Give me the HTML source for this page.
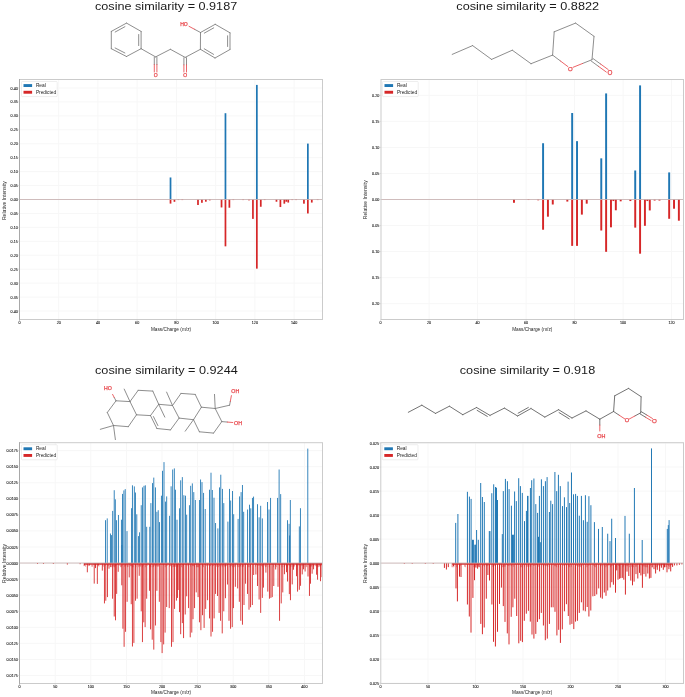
<!DOCTYPE html><html><head><meta charset="utf-8"><style>html,body{margin:0;padding:0;background:#fff;overflow:hidden}svg{display:block}</style></head><body>
<svg width="685" height="697" viewBox="0 0 685 697" font-family='"Liberation Sans", sans-serif' style="will-change:transform">
<rect width="685" height="697" fill="#fff"/>
<text x="95.00" y="9.90" font-size="11.1" textLength="142.20" lengthAdjust="spacingAndGlyphs" fill="#1a1a1a">cosine similarity = 0.9187</text>
<text x="456.30" y="9.90" font-size="11.1" textLength="142.80" lengthAdjust="spacingAndGlyphs" fill="#1a1a1a">cosine similarity = 0.8822</text>
<text x="95.00" y="373.80" font-size="11.1" textLength="142.80" lengthAdjust="spacingAndGlyphs" fill="#1a1a1a">cosine similarity = 0.9244</text>
<text x="459.80" y="373.90" font-size="11.1" textLength="135.40" lengthAdjust="spacingAndGlyphs" fill="#1a1a1a">cosine similarity = 0.918</text>
<g>
<line x1="19.5" y1="311.02" x2="322.5" y2="311.02" stroke="#f7f7f7" stroke-width="1"/>
<line x1="19.5" y1="297.08" x2="322.5" y2="297.08" stroke="#f7f7f7" stroke-width="1"/>
<line x1="19.5" y1="283.14" x2="322.5" y2="283.14" stroke="#f7f7f7" stroke-width="1"/>
<line x1="19.5" y1="269.20" x2="322.5" y2="269.20" stroke="#f7f7f7" stroke-width="1"/>
<line x1="19.5" y1="255.26" x2="322.5" y2="255.26" stroke="#f7f7f7" stroke-width="1"/>
<line x1="19.5" y1="241.32" x2="322.5" y2="241.32" stroke="#f7f7f7" stroke-width="1"/>
<line x1="19.5" y1="227.38" x2="322.5" y2="227.38" stroke="#f7f7f7" stroke-width="1"/>
<line x1="19.5" y1="213.44" x2="322.5" y2="213.44" stroke="#f7f7f7" stroke-width="1"/>
<line x1="19.5" y1="199.50" x2="322.5" y2="199.50" stroke="#f7f7f7" stroke-width="1"/>
<line x1="19.5" y1="185.56" x2="322.5" y2="185.56" stroke="#f7f7f7" stroke-width="1"/>
<line x1="19.5" y1="171.62" x2="322.5" y2="171.62" stroke="#f7f7f7" stroke-width="1"/>
<line x1="19.5" y1="157.68" x2="322.5" y2="157.68" stroke="#f7f7f7" stroke-width="1"/>
<line x1="19.5" y1="143.74" x2="322.5" y2="143.74" stroke="#f7f7f7" stroke-width="1"/>
<line x1="19.5" y1="129.80" x2="322.5" y2="129.80" stroke="#f7f7f7" stroke-width="1"/>
<line x1="19.5" y1="115.86" x2="322.5" y2="115.86" stroke="#f7f7f7" stroke-width="1"/>
<line x1="19.5" y1="101.92" x2="322.5" y2="101.92" stroke="#f7f7f7" stroke-width="1"/>
<line x1="19.5" y1="87.98" x2="322.5" y2="87.98" stroke="#f7f7f7" stroke-width="1"/>
<line x1="58.69" y1="79.5" x2="58.69" y2="319.5" stroke="#f7f7f7" stroke-width="1"/>
<line x1="97.93" y1="79.5" x2="97.93" y2="319.5" stroke="#f7f7f7" stroke-width="1"/>
<line x1="137.17" y1="79.5" x2="137.17" y2="319.5" stroke="#f7f7f7" stroke-width="1"/>
<line x1="176.41" y1="79.5" x2="176.41" y2="319.5" stroke="#f7f7f7" stroke-width="1"/>
<line x1="215.65" y1="79.5" x2="215.65" y2="319.5" stroke="#f7f7f7" stroke-width="1"/>
<line x1="254.89" y1="79.5" x2="254.89" y2="319.5" stroke="#f7f7f7" stroke-width="1"/>
<line x1="294.13" y1="79.5" x2="294.13" y2="319.5" stroke="#f7f7f7" stroke-width="1"/>
<rect x="169.66" y="177.47" width="1.72" height="22.03" fill="#1f77b4"/>
<rect x="224.60" y="113.21" width="1.72" height="86.29" fill="#1f77b4"/>
<rect x="255.99" y="84.91" width="1.72" height="114.59" fill="#1f77b4"/>
<rect x="307.00" y="143.60" width="1.72" height="55.90" fill="#1f77b4"/>
<rect x="169.66" y="199.50" width="1.72" height="4.10" fill="#d62728"/>
<rect x="173.59" y="199.50" width="1.72" height="2.31" fill="#d62728"/>
<rect x="177.51" y="199.50" width="1.72" height="0.56" fill="#d62728"/>
<rect x="181.44" y="199.50" width="1.72" height="0.56" fill="#d62728"/>
<rect x="197.13" y="199.50" width="1.72" height="5.49" fill="#d62728"/>
<rect x="201.06" y="199.50" width="1.72" height="3.29" fill="#d62728"/>
<rect x="204.98" y="199.50" width="1.72" height="2.20" fill="#d62728"/>
<rect x="208.90" y="199.50" width="1.72" height="0.84" fill="#d62728"/>
<rect x="220.68" y="199.50" width="1.72" height="7.95" fill="#d62728"/>
<rect x="224.60" y="199.50" width="1.72" height="46.84" fill="#d62728"/>
<rect x="228.52" y="199.50" width="1.72" height="8.22" fill="#d62728"/>
<rect x="232.45" y="199.50" width="1.72" height="0.56" fill="#d62728"/>
<rect x="242.26" y="199.50" width="1.72" height="0.56" fill="#d62728"/>
<rect x="248.14" y="199.50" width="1.72" height="0.84" fill="#d62728"/>
<rect x="252.07" y="199.50" width="1.72" height="19.40" fill="#d62728"/>
<rect x="255.99" y="199.50" width="1.72" height="69.14" fill="#d62728"/>
<rect x="259.92" y="199.50" width="1.72" height="7.25" fill="#d62728"/>
<rect x="263.84" y="199.50" width="1.72" height="0.56" fill="#d62728"/>
<rect x="275.61" y="199.50" width="1.72" height="2.23" fill="#d62728"/>
<rect x="279.54" y="199.50" width="1.72" height="7.53" fill="#d62728"/>
<rect x="283.46" y="199.50" width="1.72" height="4.18" fill="#d62728"/>
<rect x="285.42" y="199.50" width="1.72" height="2.23" fill="#d62728"/>
<rect x="287.38" y="199.50" width="1.72" height="3.07" fill="#d62728"/>
<rect x="291.31" y="199.50" width="1.72" height="0.56" fill="#d62728"/>
<rect x="295.23" y="199.50" width="1.72" height="0.56" fill="#d62728"/>
<rect x="303.08" y="199.50" width="1.72" height="4.18" fill="#d62728"/>
<rect x="307.00" y="199.50" width="1.72" height="13.94" fill="#d62728"/>
<rect x="310.93" y="199.50" width="1.72" height="3.07" fill="#d62728"/>
<rect x="316.81" y="199.50" width="1.72" height="0.56" fill="#d62728"/>
<line x1="19.5" y1="199.5" x2="322.5" y2="199.5" stroke="#c4acac" stroke-width="0.8"/>
<rect x="19.5" y="79.5" width="303.00" height="240.00" fill="none" stroke="#cbcbcb" stroke-width="1"/>
<line x1="19.5" y1="79.0" x2="19.5" y2="320.7" stroke="#a8a8a8" stroke-width="1"/>
<line x1="17.90" y1="311.02" x2="19.50" y2="311.02" stroke="#c4c4c4" stroke-width="0.5"/>
<line x1="17.90" y1="297.08" x2="19.50" y2="297.08" stroke="#c4c4c4" stroke-width="0.5"/>
<line x1="17.90" y1="283.14" x2="19.50" y2="283.14" stroke="#c4c4c4" stroke-width="0.5"/>
<line x1="17.90" y1="269.20" x2="19.50" y2="269.20" stroke="#c4c4c4" stroke-width="0.5"/>
<line x1="17.90" y1="255.26" x2="19.50" y2="255.26" stroke="#c4c4c4" stroke-width="0.5"/>
<line x1="17.90" y1="241.32" x2="19.50" y2="241.32" stroke="#c4c4c4" stroke-width="0.5"/>
<line x1="17.90" y1="227.38" x2="19.50" y2="227.38" stroke="#c4c4c4" stroke-width="0.5"/>
<line x1="17.90" y1="213.44" x2="19.50" y2="213.44" stroke="#c4c4c4" stroke-width="0.5"/>
<line x1="17.90" y1="199.50" x2="19.50" y2="199.50" stroke="#c4c4c4" stroke-width="0.5"/>
<line x1="17.90" y1="185.56" x2="19.50" y2="185.56" stroke="#c4c4c4" stroke-width="0.5"/>
<line x1="17.90" y1="171.62" x2="19.50" y2="171.62" stroke="#c4c4c4" stroke-width="0.5"/>
<line x1="17.90" y1="157.68" x2="19.50" y2="157.68" stroke="#c4c4c4" stroke-width="0.5"/>
<line x1="17.90" y1="143.74" x2="19.50" y2="143.74" stroke="#c4c4c4" stroke-width="0.5"/>
<line x1="17.90" y1="129.80" x2="19.50" y2="129.80" stroke="#c4c4c4" stroke-width="0.5"/>
<line x1="17.90" y1="115.86" x2="19.50" y2="115.86" stroke="#c4c4c4" stroke-width="0.5"/>
<line x1="17.90" y1="101.92" x2="19.50" y2="101.92" stroke="#c4c4c4" stroke-width="0.5"/>
<line x1="17.90" y1="87.98" x2="19.50" y2="87.98" stroke="#c4c4c4" stroke-width="0.5"/>
<line x1="19.45" y1="319.50" x2="19.45" y2="320.90" stroke="#c4c4c4" stroke-width="0.5"/>
<line x1="58.69" y1="319.50" x2="58.69" y2="320.90" stroke="#c4c4c4" stroke-width="0.5"/>
<line x1="97.93" y1="319.50" x2="97.93" y2="320.90" stroke="#c4c4c4" stroke-width="0.5"/>
<line x1="137.17" y1="319.50" x2="137.17" y2="320.90" stroke="#c4c4c4" stroke-width="0.5"/>
<line x1="176.41" y1="319.50" x2="176.41" y2="320.90" stroke="#c4c4c4" stroke-width="0.5"/>
<line x1="215.65" y1="319.50" x2="215.65" y2="320.90" stroke="#c4c4c4" stroke-width="0.5"/>
<line x1="254.89" y1="319.50" x2="254.89" y2="320.90" stroke="#c4c4c4" stroke-width="0.5"/>
<line x1="294.13" y1="319.50" x2="294.13" y2="320.90" stroke="#c4c4c4" stroke-width="0.5"/>
<text x="17.80" y="312.57" font-size="3.7" text-anchor="end" fill="#111" stroke="#111" stroke-width="0.08">0.40</text>
<text x="17.80" y="298.63" font-size="3.7" text-anchor="end" fill="#111" stroke="#111" stroke-width="0.08">0.35</text>
<text x="17.80" y="284.69" font-size="3.7" text-anchor="end" fill="#111" stroke="#111" stroke-width="0.08">0.30</text>
<text x="17.80" y="270.75" font-size="3.7" text-anchor="end" fill="#111" stroke="#111" stroke-width="0.08">0.25</text>
<text x="17.80" y="256.81" font-size="3.7" text-anchor="end" fill="#111" stroke="#111" stroke-width="0.08">0.20</text>
<text x="17.80" y="242.87" font-size="3.7" text-anchor="end" fill="#111" stroke="#111" stroke-width="0.08">0.15</text>
<text x="17.80" y="228.93" font-size="3.7" text-anchor="end" fill="#111" stroke="#111" stroke-width="0.08">0.10</text>
<text x="17.80" y="214.99" font-size="3.7" text-anchor="end" fill="#111" stroke="#111" stroke-width="0.08">0.05</text>
<text x="17.80" y="201.05" font-size="3.7" text-anchor="end" fill="#111" stroke="#111" stroke-width="0.08">0.00</text>
<text x="17.80" y="187.11" font-size="3.7" text-anchor="end" fill="#111" stroke="#111" stroke-width="0.08">0.05</text>
<text x="17.80" y="173.17" font-size="3.7" text-anchor="end" fill="#111" stroke="#111" stroke-width="0.08">0.10</text>
<text x="17.80" y="159.23" font-size="3.7" text-anchor="end" fill="#111" stroke="#111" stroke-width="0.08">0.15</text>
<text x="17.80" y="145.29" font-size="3.7" text-anchor="end" fill="#111" stroke="#111" stroke-width="0.08">0.20</text>
<text x="17.80" y="131.35" font-size="3.7" text-anchor="end" fill="#111" stroke="#111" stroke-width="0.08">0.25</text>
<text x="17.80" y="117.41" font-size="3.7" text-anchor="end" fill="#111" stroke="#111" stroke-width="0.08">0.30</text>
<text x="17.80" y="103.47" font-size="3.7" text-anchor="end" fill="#111" stroke="#111" stroke-width="0.08">0.35</text>
<text x="17.80" y="89.53" font-size="3.7" text-anchor="end" fill="#111" stroke="#111" stroke-width="0.08">0.40</text>
<text x="19.45" y="323.90" font-size="3.7" text-anchor="middle" fill="#111" stroke="#111" stroke-width="0.08">0</text>
<text x="58.69" y="323.90" font-size="3.7" text-anchor="middle" fill="#111" stroke="#111" stroke-width="0.08">20</text>
<text x="97.93" y="323.90" font-size="3.7" text-anchor="middle" fill="#111" stroke="#111" stroke-width="0.08">40</text>
<text x="137.17" y="323.90" font-size="3.7" text-anchor="middle" fill="#111" stroke="#111" stroke-width="0.08">60</text>
<text x="176.41" y="323.90" font-size="3.7" text-anchor="middle" fill="#111" stroke="#111" stroke-width="0.08">80</text>
<text x="215.65" y="323.90" font-size="3.7" text-anchor="middle" fill="#111" stroke="#111" stroke-width="0.08">100</text>
<text x="254.89" y="323.90" font-size="3.7" text-anchor="middle" fill="#111" stroke="#111" stroke-width="0.08">120</text>
<text x="294.13" y="323.90" font-size="3.7" text-anchor="middle" fill="#111" stroke="#111" stroke-width="0.08">140</text>
<text x="150.90" y="331.10" font-size="5.4" textLength="40.2" lengthAdjust="spacingAndGlyphs" fill="#222">Mass/Charge (m/z)</text>
<text transform="translate(6.20,200.60) rotate(-90)" x="0" y="0" font-size="5.3" textLength="39" lengthAdjust="spacingAndGlyphs" text-anchor="middle" fill="#222">Relative Intensity</text>
<rect x="21.50" y="81.50" width="35.7" height="15.1" rx="0.8" fill="#fff" fill-opacity="0.8" stroke="#e3e3e3" stroke-width="0.6"/>
<rect x="23.50" y="84.10" width="8.6" height="2.9" fill="#1f77b4"/>
<rect x="23.50" y="90.80" width="8.6" height="2.9" fill="#d62728"/>
<text x="35.90" y="86.80" font-size="4.8" fill="#222">Real</text>
<text x="35.90" y="93.60" font-size="4.8" fill="#222">Predicted</text>
</g>
<g>
<line x1="381.0" y1="303.70" x2="683.5" y2="303.70" stroke="#f7f7f7" stroke-width="1"/>
<line x1="381.0" y1="277.65" x2="683.5" y2="277.65" stroke="#f7f7f7" stroke-width="1"/>
<line x1="381.0" y1="251.60" x2="683.5" y2="251.60" stroke="#f7f7f7" stroke-width="1"/>
<line x1="381.0" y1="225.55" x2="683.5" y2="225.55" stroke="#f7f7f7" stroke-width="1"/>
<line x1="381.0" y1="199.50" x2="683.5" y2="199.50" stroke="#f7f7f7" stroke-width="1"/>
<line x1="381.0" y1="173.45" x2="683.5" y2="173.45" stroke="#f7f7f7" stroke-width="1"/>
<line x1="381.0" y1="147.40" x2="683.5" y2="147.40" stroke="#f7f7f7" stroke-width="1"/>
<line x1="381.0" y1="121.35" x2="683.5" y2="121.35" stroke="#f7f7f7" stroke-width="1"/>
<line x1="381.0" y1="95.30" x2="683.5" y2="95.30" stroke="#f7f7f7" stroke-width="1"/>
<line x1="429.10" y1="79.5" x2="429.10" y2="319.5" stroke="#f7f7f7" stroke-width="1"/>
<line x1="477.60" y1="79.5" x2="477.60" y2="319.5" stroke="#f7f7f7" stroke-width="1"/>
<line x1="526.10" y1="79.5" x2="526.10" y2="319.5" stroke="#f7f7f7" stroke-width="1"/>
<line x1="574.60" y1="79.5" x2="574.60" y2="319.5" stroke="#f7f7f7" stroke-width="1"/>
<line x1="623.10" y1="79.5" x2="623.10" y2="319.5" stroke="#f7f7f7" stroke-width="1"/>
<line x1="671.60" y1="79.5" x2="671.60" y2="319.5" stroke="#f7f7f7" stroke-width="1"/>
<rect x="542.11" y="143.23" width="1.94" height="56.27" fill="#1f77b4"/>
<rect x="571.20" y="113.01" width="1.94" height="86.49" fill="#1f77b4"/>
<rect x="576.05" y="141.15" width="1.94" height="58.35" fill="#1f77b4"/>
<rect x="600.30" y="158.34" width="1.94" height="41.16" fill="#1f77b4"/>
<rect x="605.15" y="93.42" width="1.94" height="106.08" fill="#1f77b4"/>
<rect x="634.25" y="170.48" width="1.94" height="29.02" fill="#1f77b4"/>
<rect x="639.11" y="85.40" width="1.94" height="114.10" fill="#1f77b4"/>
<rect x="668.20" y="172.41" width="1.94" height="27.09" fill="#1f77b4"/>
<rect x="513.00" y="199.50" width="1.94" height="3.28" fill="#d62728"/>
<rect x="527.55" y="199.50" width="1.94" height="0.52" fill="#d62728"/>
<rect x="537.25" y="199.50" width="1.94" height="0.78" fill="#d62728"/>
<rect x="542.11" y="199.50" width="1.94" height="30.22" fill="#d62728"/>
<rect x="546.95" y="199.50" width="1.94" height="17.19" fill="#d62728"/>
<rect x="551.80" y="199.50" width="1.94" height="5.00" fill="#d62728"/>
<rect x="566.36" y="199.50" width="1.94" height="2.08" fill="#d62728"/>
<rect x="571.20" y="199.50" width="1.94" height="46.37" fill="#d62728"/>
<rect x="576.05" y="199.50" width="1.94" height="46.37" fill="#d62728"/>
<rect x="580.90" y="199.50" width="1.94" height="15.11" fill="#d62728"/>
<rect x="585.75" y="199.50" width="1.94" height="4.17" fill="#d62728"/>
<rect x="600.30" y="199.50" width="1.94" height="31.00" fill="#d62728"/>
<rect x="605.15" y="199.50" width="1.94" height="52.31" fill="#d62728"/>
<rect x="610.00" y="199.50" width="1.94" height="27.82" fill="#d62728"/>
<rect x="612.43" y="199.50" width="1.94" height="1.56" fill="#d62728"/>
<rect x="614.86" y="199.50" width="1.94" height="10.78" fill="#d62728"/>
<rect x="619.70" y="199.50" width="1.94" height="1.82" fill="#d62728"/>
<rect x="629.40" y="199.50" width="1.94" height="1.56" fill="#d62728"/>
<rect x="634.25" y="199.50" width="1.94" height="28.13" fill="#d62728"/>
<rect x="639.11" y="199.50" width="1.94" height="54.18" fill="#d62728"/>
<rect x="643.95" y="199.50" width="1.94" height="26.31" fill="#d62728"/>
<rect x="646.38" y="199.50" width="1.94" height="1.56" fill="#d62728"/>
<rect x="648.80" y="199.50" width="1.94" height="10.94" fill="#d62728"/>
<rect x="653.65" y="199.50" width="1.94" height="1.04" fill="#d62728"/>
<rect x="658.50" y="199.50" width="1.94" height="1.04" fill="#d62728"/>
<rect x="668.20" y="199.50" width="1.94" height="19.28" fill="#d62728"/>
<rect x="673.05" y="199.50" width="1.94" height="9.22" fill="#d62728"/>
<rect x="677.90" y="199.50" width="1.94" height="21.20" fill="#d62728"/>
<line x1="381.0" y1="199.5" x2="683.5" y2="199.5" stroke="#c4acac" stroke-width="0.8"/>
<rect x="381.0" y="79.5" width="302.50" height="240.00" fill="none" stroke="#cbcbcb" stroke-width="1"/>
<line x1="379.40" y1="303.70" x2="381.00" y2="303.70" stroke="#c4c4c4" stroke-width="0.5"/>
<line x1="379.40" y1="277.65" x2="381.00" y2="277.65" stroke="#c4c4c4" stroke-width="0.5"/>
<line x1="379.40" y1="251.60" x2="381.00" y2="251.60" stroke="#c4c4c4" stroke-width="0.5"/>
<line x1="379.40" y1="225.55" x2="381.00" y2="225.55" stroke="#c4c4c4" stroke-width="0.5"/>
<line x1="379.40" y1="199.50" x2="381.00" y2="199.50" stroke="#c4c4c4" stroke-width="0.5"/>
<line x1="379.40" y1="173.45" x2="381.00" y2="173.45" stroke="#c4c4c4" stroke-width="0.5"/>
<line x1="379.40" y1="147.40" x2="381.00" y2="147.40" stroke="#c4c4c4" stroke-width="0.5"/>
<line x1="379.40" y1="121.35" x2="381.00" y2="121.35" stroke="#c4c4c4" stroke-width="0.5"/>
<line x1="379.40" y1="95.30" x2="381.00" y2="95.30" stroke="#c4c4c4" stroke-width="0.5"/>
<line x1="380.60" y1="319.50" x2="380.60" y2="320.90" stroke="#c4c4c4" stroke-width="0.5"/>
<line x1="429.10" y1="319.50" x2="429.10" y2="320.90" stroke="#c4c4c4" stroke-width="0.5"/>
<line x1="477.60" y1="319.50" x2="477.60" y2="320.90" stroke="#c4c4c4" stroke-width="0.5"/>
<line x1="526.10" y1="319.50" x2="526.10" y2="320.90" stroke="#c4c4c4" stroke-width="0.5"/>
<line x1="574.60" y1="319.50" x2="574.60" y2="320.90" stroke="#c4c4c4" stroke-width="0.5"/>
<line x1="623.10" y1="319.50" x2="623.10" y2="320.90" stroke="#c4c4c4" stroke-width="0.5"/>
<line x1="671.60" y1="319.50" x2="671.60" y2="320.90" stroke="#c4c4c4" stroke-width="0.5"/>
<text x="379.30" y="305.25" font-size="3.7" text-anchor="end" fill="#111" stroke="#111" stroke-width="0.08">0.20</text>
<text x="379.30" y="279.20" font-size="3.7" text-anchor="end" fill="#111" stroke="#111" stroke-width="0.08">0.15</text>
<text x="379.30" y="253.15" font-size="3.7" text-anchor="end" fill="#111" stroke="#111" stroke-width="0.08">0.10</text>
<text x="379.30" y="227.10" font-size="3.7" text-anchor="end" fill="#111" stroke="#111" stroke-width="0.08">0.05</text>
<text x="379.30" y="201.05" font-size="3.7" text-anchor="end" fill="#111" stroke="#111" stroke-width="0.08">0.00</text>
<text x="379.30" y="175.00" font-size="3.7" text-anchor="end" fill="#111" stroke="#111" stroke-width="0.08">0.05</text>
<text x="379.30" y="148.95" font-size="3.7" text-anchor="end" fill="#111" stroke="#111" stroke-width="0.08">0.10</text>
<text x="379.30" y="122.90" font-size="3.7" text-anchor="end" fill="#111" stroke="#111" stroke-width="0.08">0.15</text>
<text x="379.30" y="96.85" font-size="3.7" text-anchor="end" fill="#111" stroke="#111" stroke-width="0.08">0.20</text>
<text x="380.60" y="323.90" font-size="3.7" text-anchor="middle" fill="#111" stroke="#111" stroke-width="0.08">0</text>
<text x="429.10" y="323.90" font-size="3.7" text-anchor="middle" fill="#111" stroke="#111" stroke-width="0.08">20</text>
<text x="477.60" y="323.90" font-size="3.7" text-anchor="middle" fill="#111" stroke="#111" stroke-width="0.08">40</text>
<text x="526.10" y="323.90" font-size="3.7" text-anchor="middle" fill="#111" stroke="#111" stroke-width="0.08">60</text>
<text x="574.60" y="323.90" font-size="3.7" text-anchor="middle" fill="#111" stroke="#111" stroke-width="0.08">80</text>
<text x="623.10" y="323.90" font-size="3.7" text-anchor="middle" fill="#111" stroke="#111" stroke-width="0.08">100</text>
<text x="671.60" y="323.90" font-size="3.7" text-anchor="middle" fill="#111" stroke="#111" stroke-width="0.08">120</text>
<text x="512.15" y="331.10" font-size="5.4" textLength="40.2" lengthAdjust="spacingAndGlyphs" fill="#222">Mass/Charge (m/z)</text>
<text transform="translate(367.00,199.80) rotate(-90)" x="0" y="0" font-size="5.3" textLength="39" lengthAdjust="spacingAndGlyphs" text-anchor="middle" fill="#222">Relative Intensity</text>
<rect x="382.50" y="81.50" width="35.7" height="15.1" rx="0.8" fill="#fff" fill-opacity="0.8" stroke="#e3e3e3" stroke-width="0.6"/>
<rect x="384.50" y="84.10" width="8.6" height="2.9" fill="#1f77b4"/>
<rect x="384.50" y="90.80" width="8.6" height="2.9" fill="#d62728"/>
<text x="396.90" y="86.80" font-size="4.8" fill="#222">Real</text>
<text x="396.90" y="93.60" font-size="4.8" fill="#222">Predicted</text>
</g>
<g>
<line x1="19.5" y1="675.49" x2="322.5" y2="675.49" stroke="#f7f7f7" stroke-width="1"/>
<line x1="19.5" y1="659.42" x2="322.5" y2="659.42" stroke="#f7f7f7" stroke-width="1"/>
<line x1="19.5" y1="643.36" x2="322.5" y2="643.36" stroke="#f7f7f7" stroke-width="1"/>
<line x1="19.5" y1="627.30" x2="322.5" y2="627.30" stroke="#f7f7f7" stroke-width="1"/>
<line x1="19.5" y1="611.24" x2="322.5" y2="611.24" stroke="#f7f7f7" stroke-width="1"/>
<line x1="19.5" y1="595.17" x2="322.5" y2="595.17" stroke="#f7f7f7" stroke-width="1"/>
<line x1="19.5" y1="579.11" x2="322.5" y2="579.11" stroke="#f7f7f7" stroke-width="1"/>
<line x1="19.5" y1="563.05" x2="322.5" y2="563.05" stroke="#f7f7f7" stroke-width="1"/>
<line x1="19.5" y1="546.99" x2="322.5" y2="546.99" stroke="#f7f7f7" stroke-width="1"/>
<line x1="19.5" y1="530.92" x2="322.5" y2="530.92" stroke="#f7f7f7" stroke-width="1"/>
<line x1="19.5" y1="514.86" x2="322.5" y2="514.86" stroke="#f7f7f7" stroke-width="1"/>
<line x1="19.5" y1="498.80" x2="322.5" y2="498.80" stroke="#f7f7f7" stroke-width="1"/>
<line x1="19.5" y1="482.74" x2="322.5" y2="482.74" stroke="#f7f7f7" stroke-width="1"/>
<line x1="19.5" y1="466.67" x2="322.5" y2="466.67" stroke="#f7f7f7" stroke-width="1"/>
<line x1="19.5" y1="450.61" x2="322.5" y2="450.61" stroke="#f7f7f7" stroke-width="1"/>
<line x1="19.60" y1="442.7" x2="19.60" y2="683.5" stroke="#f7f7f7" stroke-width="1"/>
<line x1="55.20" y1="442.7" x2="55.20" y2="683.5" stroke="#f7f7f7" stroke-width="1"/>
<line x1="90.80" y1="442.7" x2="90.80" y2="683.5" stroke="#f7f7f7" stroke-width="1"/>
<line x1="126.40" y1="442.7" x2="126.40" y2="683.5" stroke="#f7f7f7" stroke-width="1"/>
<line x1="162.00" y1="442.7" x2="162.00" y2="683.5" stroke="#f7f7f7" stroke-width="1"/>
<line x1="197.60" y1="442.7" x2="197.60" y2="683.5" stroke="#f7f7f7" stroke-width="1"/>
<line x1="233.20" y1="442.7" x2="233.20" y2="683.5" stroke="#f7f7f7" stroke-width="1"/>
<line x1="268.80" y1="442.7" x2="268.80" y2="683.5" stroke="#f7f7f7" stroke-width="1"/>
<line x1="304.40" y1="442.7" x2="304.40" y2="683.5" stroke="#f7f7f7" stroke-width="1"/>
<rect x="121.46" y="545.00" width="0.88" height="18.05" fill="#1f77b4"/>
<rect x="289.16" y="535.50" width="0.88" height="27.55" fill="#1f77b4"/>
<rect x="105.06" y="520.20" width="0.88" height="42.85" fill="#1f77b4"/>
<rect x="106.76" y="518.40" width="0.88" height="44.65" fill="#1f77b4"/>
<rect x="109.96" y="533.50" width="0.88" height="29.55" fill="#1f77b4"/>
<rect x="110.96" y="535.10" width="0.88" height="27.95" fill="#1f77b4"/>
<rect x="112.26" y="510.90" width="0.88" height="52.15" fill="#1f77b4"/>
<rect x="113.76" y="490.20" width="0.88" height="72.85" fill="#1f77b4"/>
<rect x="114.86" y="499.30" width="0.88" height="63.75" fill="#1f77b4"/>
<rect x="116.16" y="520.20" width="0.88" height="42.85" fill="#1f77b4"/>
<rect x="117.96" y="515.00" width="0.88" height="48.05" fill="#1f77b4"/>
<rect x="120.96" y="519.70" width="0.88" height="43.35" fill="#1f77b4"/>
<rect x="122.06" y="493.90" width="0.88" height="69.15" fill="#1f77b4"/>
<rect x="123.46" y="490.40" width="0.88" height="72.65" fill="#1f77b4"/>
<rect x="124.76" y="489.10" width="0.88" height="73.95" fill="#1f77b4"/>
<rect x="126.56" y="531.10" width="0.88" height="31.95" fill="#1f77b4"/>
<rect x="131.16" y="508.20" width="0.88" height="54.85" fill="#1f77b4"/>
<rect x="131.96" y="485.30" width="0.88" height="77.75" fill="#1f77b4"/>
<rect x="133.86" y="486.40" width="0.88" height="76.65" fill="#1f77b4"/>
<rect x="134.96" y="492.50" width="0.88" height="70.55" fill="#1f77b4"/>
<rect x="136.36" y="514.30" width="0.88" height="48.75" fill="#1f77b4"/>
<rect x="137.96" y="536.10" width="0.88" height="26.95" fill="#1f77b4"/>
<rect x="139.16" y="532.30" width="0.88" height="30.75" fill="#1f77b4"/>
<rect x="140.76" y="505.20" width="0.88" height="57.85" fill="#1f77b4"/>
<rect x="141.96" y="487.40" width="0.88" height="75.65" fill="#1f77b4"/>
<rect x="143.56" y="485.80" width="0.88" height="77.25" fill="#1f77b4"/>
<rect x="144.86" y="485.30" width="0.88" height="77.75" fill="#1f77b4"/>
<rect x="146.26" y="526.80" width="0.88" height="36.25" fill="#1f77b4"/>
<rect x="149.36" y="526.80" width="0.88" height="36.25" fill="#1f77b4"/>
<rect x="150.46" y="503.10" width="0.88" height="59.95" fill="#1f77b4"/>
<rect x="152.06" y="483.10" width="0.88" height="79.95" fill="#1f77b4"/>
<rect x="153.36" y="477.60" width="0.88" height="85.45" fill="#1f77b4"/>
<rect x="154.96" y="487.40" width="0.88" height="75.65" fill="#1f77b4"/>
<rect x="156.46" y="511.80" width="0.88" height="51.25" fill="#1f77b4"/>
<rect x="157.76" y="510.20" width="0.88" height="52.85" fill="#1f77b4"/>
<rect x="159.06" y="522.10" width="0.88" height="40.95" fill="#1f77b4"/>
<rect x="160.96" y="495.70" width="0.88" height="67.35" fill="#1f77b4"/>
<rect x="162.06" y="470.80" width="0.88" height="92.25" fill="#1f77b4"/>
<rect x="163.56" y="462.10" width="0.88" height="100.95" fill="#1f77b4"/>
<rect x="165.16" y="501.60" width="0.88" height="61.45" fill="#1f77b4"/>
<rect x="166.26" y="496.40" width="0.88" height="66.65" fill="#1f77b4"/>
<rect x="169.16" y="515.80" width="0.88" height="47.25" fill="#1f77b4"/>
<rect x="170.66" y="486.30" width="0.88" height="76.75" fill="#1f77b4"/>
<rect x="172.26" y="469.50" width="0.88" height="93.55" fill="#1f77b4"/>
<rect x="173.86" y="468.40" width="0.88" height="94.65" fill="#1f77b4"/>
<rect x="174.96" y="489.70" width="0.88" height="73.35" fill="#1f77b4"/>
<rect x="176.56" y="519.70" width="0.88" height="43.35" fill="#1f77b4"/>
<rect x="179.06" y="508.30" width="0.88" height="54.75" fill="#1f77b4"/>
<rect x="180.26" y="480.30" width="0.88" height="82.75" fill="#1f77b4"/>
<rect x="181.86" y="477.10" width="0.88" height="85.95" fill="#1f77b4"/>
<rect x="183.46" y="495.20" width="0.88" height="67.85" fill="#1f77b4"/>
<rect x="185.06" y="495.70" width="0.88" height="67.35" fill="#1f77b4"/>
<rect x="186.26" y="514.70" width="0.88" height="48.35" fill="#1f77b4"/>
<rect x="188.96" y="505.20" width="0.88" height="57.85" fill="#1f77b4"/>
<rect x="190.26" y="485.80" width="0.88" height="77.25" fill="#1f77b4"/>
<rect x="191.86" y="483.40" width="0.88" height="79.65" fill="#1f77b4"/>
<rect x="193.36" y="492.10" width="0.88" height="70.95" fill="#1f77b4"/>
<rect x="194.86" y="500.00" width="0.88" height="63.05" fill="#1f77b4"/>
<rect x="198.96" y="500.00" width="0.88" height="63.05" fill="#1f77b4"/>
<rect x="200.16" y="479.50" width="0.88" height="83.55" fill="#1f77b4"/>
<rect x="201.56" y="482.10" width="0.88" height="80.95" fill="#1f77b4"/>
<rect x="203.16" y="492.90" width="0.88" height="70.15" fill="#1f77b4"/>
<rect x="204.76" y="509.00" width="0.88" height="54.05" fill="#1f77b4"/>
<rect x="209.06" y="489.70" width="0.88" height="73.35" fill="#1f77b4"/>
<rect x="210.56" y="472.70" width="0.88" height="90.35" fill="#1f77b4"/>
<rect x="211.86" y="490.00" width="0.88" height="73.05" fill="#1f77b4"/>
<rect x="213.56" y="497.70" width="0.88" height="65.35" fill="#1f77b4"/>
<rect x="215.16" y="523.00" width="0.88" height="40.05" fill="#1f77b4"/>
<rect x="217.46" y="528.40" width="0.88" height="34.65" fill="#1f77b4"/>
<rect x="219.06" y="487.40" width="0.88" height="75.65" fill="#1f77b4"/>
<rect x="220.36" y="474.70" width="0.88" height="88.35" fill="#1f77b4"/>
<rect x="221.96" y="488.90" width="0.88" height="74.15" fill="#1f77b4"/>
<rect x="223.36" y="503.10" width="0.88" height="59.95" fill="#1f77b4"/>
<rect x="227.46" y="521.60" width="0.88" height="41.45" fill="#1f77b4"/>
<rect x="229.06" y="488.90" width="0.88" height="74.15" fill="#1f77b4"/>
<rect x="230.26" y="500.50" width="0.88" height="62.55" fill="#1f77b4"/>
<rect x="232.06" y="491.00" width="0.88" height="72.05" fill="#1f77b4"/>
<rect x="233.26" y="514.20" width="0.88" height="48.85" fill="#1f77b4"/>
<rect x="237.66" y="518.90" width="0.88" height="44.15" fill="#1f77b4"/>
<rect x="239.16" y="496.40" width="0.88" height="66.65" fill="#1f77b4"/>
<rect x="240.66" y="492.10" width="0.88" height="70.95" fill="#1f77b4"/>
<rect x="241.96" y="485.00" width="0.88" height="78.05" fill="#1f77b4"/>
<rect x="243.26" y="511.80" width="0.88" height="51.25" fill="#1f77b4"/>
<rect x="247.16" y="509.50" width="0.88" height="53.55" fill="#1f77b4"/>
<rect x="249.06" y="504.70" width="0.88" height="58.35" fill="#1f77b4"/>
<rect x="250.36" y="508.30" width="0.88" height="54.75" fill="#1f77b4"/>
<rect x="251.96" y="497.90" width="0.88" height="65.15" fill="#1f77b4"/>
<rect x="253.16" y="496.60" width="0.88" height="66.45" fill="#1f77b4"/>
<rect x="257.06" y="504.20" width="0.88" height="58.85" fill="#1f77b4"/>
<rect x="258.66" y="517.30" width="0.88" height="45.75" fill="#1f77b4"/>
<rect x="260.26" y="505.80" width="0.88" height="57.25" fill="#1f77b4"/>
<rect x="261.86" y="518.40" width="0.88" height="44.65" fill="#1f77b4"/>
<rect x="267.06" y="502.00" width="0.88" height="61.05" fill="#1f77b4"/>
<rect x="268.56" y="509.50" width="0.88" height="53.55" fill="#1f77b4"/>
<rect x="270.16" y="497.90" width="0.88" height="65.15" fill="#1f77b4"/>
<rect x="277.16" y="497.90" width="0.88" height="65.15" fill="#1f77b4"/>
<rect x="278.66" y="469.50" width="0.88" height="93.55" fill="#1f77b4"/>
<rect x="280.26" y="494.10" width="0.88" height="68.95" fill="#1f77b4"/>
<rect x="287.06" y="520.20" width="0.88" height="42.85" fill="#1f77b4"/>
<rect x="288.66" y="523.80" width="0.88" height="39.25" fill="#1f77b4"/>
<rect x="289.86" y="500.00" width="0.88" height="63.05" fill="#1f77b4"/>
<rect x="298.86" y="526.40" width="0.88" height="36.65" fill="#1f77b4"/>
<rect x="299.96" y="508.20" width="0.88" height="54.85" fill="#1f77b4"/>
<rect x="307.36" y="448.60" width="0.88" height="114.45" fill="#1f77b4"/>
<rect x="37.06" y="563.05" width="0.88" height="0.95" fill="#d62728"/>
<rect x="42.96" y="563.05" width="0.88" height="0.95" fill="#d62728"/>
<rect x="52.86" y="563.05" width="0.88" height="0.95" fill="#d62728"/>
<rect x="66.86" y="563.05" width="0.88" height="1.55" fill="#d62728"/>
<rect x="79.66" y="563.05" width="0.88" height="1.15" fill="#d62728"/>
<rect x="83.96" y="563.05" width="0.88" height="2.45" fill="#d62728"/>
<rect x="86.86" y="563.05" width="0.88" height="9.25" fill="#d62728"/>
<rect x="89.16" y="563.05" width="0.88" height="2.45" fill="#d62728"/>
<rect x="93.76" y="563.05" width="0.88" height="20.55" fill="#d62728"/>
<rect x="95.06" y="563.05" width="0.88" height="5.05" fill="#d62728"/>
<rect x="96.86" y="563.05" width="0.88" height="20.85" fill="#d62728"/>
<rect x="98.16" y="563.05" width="0.88" height="2.45" fill="#d62728"/>
<rect x="101.86" y="563.05" width="0.88" height="7.55" fill="#d62728"/>
<rect x="103.96" y="563.05" width="0.88" height="40.35" fill="#d62728"/>
<rect x="105.36" y="563.05" width="0.88" height="37.65" fill="#d62728"/>
<rect x="106.96" y="563.05" width="0.88" height="34.05" fill="#d62728"/>
<rect x="108.56" y="563.05" width="0.88" height="5.65" fill="#d62728"/>
<rect x="110.26" y="563.05" width="0.88" height="4.05" fill="#d62728"/>
<rect x="112.16" y="563.05" width="0.88" height="35.65" fill="#d62728"/>
<rect x="113.76" y="563.05" width="0.88" height="53.45" fill="#d62728"/>
<rect x="115.06" y="563.05" width="0.88" height="57.25" fill="#d62728"/>
<rect x="116.26" y="563.05" width="0.88" height="30.85" fill="#d62728"/>
<rect x="117.76" y="563.05" width="0.88" height="8.75" fill="#d62728"/>
<rect x="121.36" y="563.05" width="0.88" height="22.25" fill="#d62728"/>
<rect x="122.46" y="563.05" width="0.88" height="65.65" fill="#d62728"/>
<rect x="123.66" y="563.05" width="0.88" height="83.75" fill="#d62728"/>
<rect x="125.16" y="563.05" width="0.88" height="68.75" fill="#d62728"/>
<rect x="126.66" y="563.05" width="0.88" height="38.75" fill="#d62728"/>
<rect x="128.76" y="563.05" width="0.88" height="14.35" fill="#d62728"/>
<rect x="130.76" y="563.05" width="0.88" height="41.15" fill="#d62728"/>
<rect x="131.96" y="563.05" width="0.88" height="83.45" fill="#d62728"/>
<rect x="133.46" y="563.05" width="0.88" height="79.85" fill="#d62728"/>
<rect x="135.06" y="563.05" width="0.88" height="37.65" fill="#d62728"/>
<rect x="136.66" y="563.05" width="0.88" height="35.65" fill="#d62728"/>
<rect x="138.76" y="563.05" width="0.88" height="12.75" fill="#d62728"/>
<rect x="140.76" y="563.05" width="0.88" height="48.25" fill="#d62728"/>
<rect x="141.96" y="563.05" width="0.88" height="79.05" fill="#d62728"/>
<rect x="143.36" y="563.05" width="0.88" height="59.25" fill="#d62728"/>
<rect x="144.66" y="563.05" width="0.88" height="64.05" fill="#d62728"/>
<rect x="146.26" y="563.05" width="0.88" height="35.65" fill="#d62728"/>
<rect x="148.96" y="563.05" width="0.88" height="27.75" fill="#d62728"/>
<rect x="150.16" y="563.05" width="0.88" height="66.35" fill="#d62728"/>
<rect x="151.76" y="563.05" width="0.88" height="76.65" fill="#d62728"/>
<rect x="153.36" y="563.05" width="0.88" height="86.55" fill="#d62728"/>
<rect x="154.96" y="563.05" width="0.88" height="62.45" fill="#d62728"/>
<rect x="156.46" y="563.05" width="0.88" height="27.75" fill="#d62728"/>
<rect x="158.86" y="563.05" width="0.88" height="38.75" fill="#d62728"/>
<rect x="160.46" y="563.05" width="0.88" height="79.05" fill="#d62728"/>
<rect x="161.66" y="563.05" width="0.88" height="90.05" fill="#d62728"/>
<rect x="163.26" y="563.05" width="0.88" height="81.35" fill="#d62728"/>
<rect x="164.66" y="563.05" width="0.88" height="69.55" fill="#d62728"/>
<rect x="166.26" y="563.05" width="0.88" height="43.95" fill="#d62728"/>
<rect x="168.76" y="563.05" width="0.88" height="45.05" fill="#d62728"/>
<rect x="171.06" y="563.05" width="0.88" height="83.75" fill="#d62728"/>
<rect x="172.56" y="563.05" width="0.88" height="79.05" fill="#d62728"/>
<rect x="174.16" y="563.05" width="0.88" height="45.85" fill="#d62728"/>
<rect x="175.96" y="563.05" width="0.88" height="37.55" fill="#d62728"/>
<rect x="177.06" y="563.05" width="0.88" height="34.85" fill="#d62728"/>
<rect x="177.66" y="563.05" width="0.88" height="26.95" fill="#d62728"/>
<rect x="179.06" y="563.05" width="0.88" height="49.05" fill="#d62728"/>
<rect x="180.26" y="563.05" width="0.88" height="71.15" fill="#d62728"/>
<rect x="181.86" y="563.05" width="0.88" height="60.05" fill="#d62728"/>
<rect x="183.16" y="563.05" width="0.88" height="75.05" fill="#d62728"/>
<rect x="184.76" y="563.05" width="0.88" height="51.45" fill="#d62728"/>
<rect x="186.26" y="563.05" width="0.88" height="33.25" fill="#d62728"/>
<rect x="188.16" y="563.05" width="0.88" height="45.05" fill="#d62728"/>
<rect x="189.76" y="563.05" width="0.88" height="74.25" fill="#d62728"/>
<rect x="191.36" y="563.05" width="0.88" height="69.55" fill="#d62728"/>
<rect x="192.56" y="563.05" width="0.88" height="56.15" fill="#d62728"/>
<rect x="194.16" y="563.05" width="0.88" height="45.05" fill="#d62728"/>
<rect x="195.76" y="563.05" width="0.88" height="29.35" fill="#d62728"/>
<rect x="197.66" y="563.05" width="0.88" height="34.05" fill="#d62728"/>
<rect x="198.96" y="563.05" width="0.88" height="59.25" fill="#d62728"/>
<rect x="200.46" y="563.05" width="0.88" height="67.15" fill="#d62728"/>
<rect x="202.06" y="563.05" width="0.88" height="52.15" fill="#d62728"/>
<rect x="203.66" y="563.05" width="0.88" height="64.85" fill="#d62728"/>
<rect x="205.26" y="563.05" width="0.88" height="45.85" fill="#d62728"/>
<rect x="207.16" y="563.05" width="0.88" height="37.15" fill="#d62728"/>
<rect x="209.06" y="563.05" width="0.88" height="55.35" fill="#d62728"/>
<rect x="210.56" y="563.05" width="0.88" height="73.45" fill="#d62728"/>
<rect x="212.16" y="563.05" width="0.88" height="68.75" fill="#d62728"/>
<rect x="213.66" y="563.05" width="0.88" height="55.35" fill="#d62728"/>
<rect x="215.16" y="563.05" width="0.88" height="30.85" fill="#d62728"/>
<rect x="217.06" y="563.05" width="0.88" height="32.95" fill="#d62728"/>
<rect x="218.66" y="563.05" width="0.88" height="49.85" fill="#d62728"/>
<rect x="220.16" y="563.05" width="0.88" height="57.75" fill="#d62728"/>
<rect x="221.76" y="563.05" width="0.88" height="70.35" fill="#d62728"/>
<rect x="223.36" y="563.05" width="0.88" height="48.25" fill="#d62728"/>
<rect x="224.96" y="563.05" width="0.88" height="35.15" fill="#d62728"/>
<rect x="226.96" y="563.05" width="0.88" height="21.45" fill="#d62728"/>
<rect x="228.56" y="563.05" width="0.88" height="57.75" fill="#d62728"/>
<rect x="230.16" y="563.05" width="0.88" height="65.65" fill="#d62728"/>
<rect x="231.76" y="563.05" width="0.88" height="64.05" fill="#d62728"/>
<rect x="232.96" y="563.05" width="0.88" height="45.05" fill="#d62728"/>
<rect x="234.86" y="563.05" width="0.88" height="23.75" fill="#d62728"/>
<rect x="237.26" y="563.05" width="0.88" height="25.35" fill="#d62728"/>
<rect x="238.86" y="563.05" width="0.88" height="38.75" fill="#d62728"/>
<rect x="240.36" y="563.05" width="0.88" height="57.75" fill="#d62728"/>
<rect x="241.96" y="563.05" width="0.88" height="61.65" fill="#d62728"/>
<rect x="243.56" y="563.05" width="0.88" height="41.95" fill="#d62728"/>
<rect x="245.16" y="563.05" width="0.88" height="20.65" fill="#d62728"/>
<rect x="247.06" y="563.05" width="0.88" height="30.85" fill="#d62728"/>
<rect x="248.56" y="563.05" width="0.88" height="46.65" fill="#d62728"/>
<rect x="250.16" y="563.05" width="0.88" height="44.25" fill="#d62728"/>
<rect x="251.86" y="563.05" width="0.88" height="41.95" fill="#d62728"/>
<rect x="253.26" y="563.05" width="0.88" height="11.95" fill="#d62728"/>
<rect x="255.46" y="563.05" width="0.88" height="11.45" fill="#d62728"/>
<rect x="257.06" y="563.05" width="0.88" height="22.95" fill="#d62728"/>
<rect x="258.66" y="563.05" width="0.88" height="36.45" fill="#d62728"/>
<rect x="260.26" y="563.05" width="0.88" height="49.85" fill="#d62728"/>
<rect x="261.86" y="563.05" width="0.88" height="34.85" fill="#d62728"/>
<rect x="262.96" y="563.05" width="0.88" height="24.55" fill="#d62728"/>
<rect x="265.46" y="563.05" width="0.88" height="9.55" fill="#d62728"/>
<rect x="267.36" y="563.05" width="0.88" height="28.55" fill="#d62728"/>
<rect x="268.96" y="563.05" width="0.88" height="35.65" fill="#d62728"/>
<rect x="270.46" y="563.05" width="0.88" height="34.85" fill="#d62728"/>
<rect x="271.76" y="563.05" width="0.88" height="34.05" fill="#d62728"/>
<rect x="273.36" y="563.05" width="0.88" height="22.95" fill="#d62728"/>
<rect x="275.26" y="563.05" width="0.88" height="6.45" fill="#d62728"/>
<rect x="277.56" y="563.05" width="0.88" height="23.75" fill="#d62728"/>
<rect x="279.16" y="563.05" width="0.88" height="57.75" fill="#d62728"/>
<rect x="280.76" y="563.05" width="0.88" height="40.35" fill="#d62728"/>
<rect x="282.36" y="563.05" width="0.88" height="29.35" fill="#d62728"/>
<rect x="283.96" y="563.05" width="0.88" height="11.15" fill="#d62728"/>
<rect x="286.06" y="563.05" width="0.88" height="9.15" fill="#d62728"/>
<rect x="287.06" y="563.05" width="0.88" height="18.45" fill="#d62728"/>
<rect x="288.86" y="563.05" width="0.88" height="31.05" fill="#d62728"/>
<rect x="289.96" y="563.05" width="0.88" height="37.15" fill="#d62728"/>
<rect x="291.76" y="563.05" width="0.88" height="21.35" fill="#d62728"/>
<rect x="293.06" y="563.05" width="0.88" height="6.65" fill="#d62728"/>
<rect x="296.06" y="563.05" width="0.88" height="13.15" fill="#d62728"/>
<rect x="297.16" y="563.05" width="0.88" height="28.55" fill="#d62728"/>
<rect x="298.86" y="563.05" width="0.88" height="26.75" fill="#d62728"/>
<rect x="300.16" y="563.05" width="0.88" height="22.75" fill="#d62728"/>
<rect x="301.76" y="563.05" width="0.88" height="11.35" fill="#d62728"/>
<rect x="303.06" y="563.05" width="0.88" height="6.25" fill="#d62728"/>
<rect x="304.66" y="563.05" width="0.88" height="8.45" fill="#d62728"/>
<rect x="307.56" y="563.05" width="0.88" height="13.45" fill="#d62728"/>
<rect x="308.96" y="563.05" width="0.88" height="32.85" fill="#d62728"/>
<rect x="310.06" y="563.05" width="0.88" height="20.65" fill="#d62728"/>
<rect x="311.66" y="563.05" width="0.88" height="10.65" fill="#d62728"/>
<rect x="313.16" y="563.05" width="0.88" height="6.25" fill="#d62728"/>
<rect x="316.16" y="563.05" width="0.88" height="11.65" fill="#d62728"/>
<rect x="317.16" y="563.05" width="0.88" height="16.65" fill="#d62728"/>
<rect x="318.66" y="563.05" width="0.88" height="2.35" fill="#d62728"/>
<rect x="320.06" y="563.05" width="0.88" height="18.15" fill="#d62728"/>
<rect x="321.56" y="563.05" width="0.88" height="14.15" fill="#d62728"/>
<rect x="84.00" y="563.05" width="238.00" height="1.60" fill="#d62728" fill-opacity="0.85"/>
<rect x="83.70" y="563.05" width="0.6" height="3.10" fill="#d62728" fill-opacity="0.7"/>
<rect x="84.41" y="563.05" width="0.6" height="1.60" fill="#d62728" fill-opacity="0.7"/>
<rect x="85.12" y="563.05" width="0.6" height="3.60" fill="#d62728" fill-opacity="0.7"/>
<rect x="85.84" y="563.05" width="0.6" height="1.60" fill="#d62728" fill-opacity="0.7"/>
<rect x="86.55" y="563.05" width="0.6" height="1.60" fill="#d62728" fill-opacity="0.7"/>
<rect x="87.26" y="563.05" width="0.6" height="1.60" fill="#d62728" fill-opacity="0.7"/>
<rect x="87.97" y="563.05" width="0.6" height="3.10" fill="#d62728" fill-opacity="0.7"/>
<rect x="88.68" y="563.05" width="0.6" height="1.60" fill="#d62728" fill-opacity="0.7"/>
<rect x="89.40" y="563.05" width="0.6" height="2.10" fill="#d62728" fill-opacity="0.7"/>
<rect x="90.11" y="563.05" width="0.6" height="1.60" fill="#d62728" fill-opacity="0.7"/>
<rect x="90.82" y="563.05" width="0.6" height="1.60" fill="#d62728" fill-opacity="0.7"/>
<rect x="91.53" y="563.05" width="0.6" height="3.60" fill="#d62728" fill-opacity="0.7"/>
<rect x="92.24" y="563.05" width="0.6" height="3.60" fill="#d62728" fill-opacity="0.7"/>
<rect x="92.96" y="563.05" width="0.6" height="1.60" fill="#d62728" fill-opacity="0.7"/>
<rect x="93.67" y="563.05" width="0.6" height="2.10" fill="#d62728" fill-opacity="0.7"/>
<rect x="94.38" y="563.05" width="0.6" height="1.60" fill="#d62728" fill-opacity="0.7"/>
<rect x="95.09" y="563.05" width="0.6" height="3.60" fill="#d62728" fill-opacity="0.7"/>
<rect x="95.80" y="563.05" width="0.6" height="1.60" fill="#d62728" fill-opacity="0.7"/>
<rect x="96.52" y="563.05" width="0.6" height="1.60" fill="#d62728" fill-opacity="0.7"/>
<rect x="97.23" y="563.05" width="0.6" height="2.10" fill="#d62728" fill-opacity="0.7"/>
<rect x="97.94" y="563.05" width="0.6" height="1.60" fill="#d62728" fill-opacity="0.7"/>
<rect x="98.65" y="563.05" width="0.6" height="3.60" fill="#d62728" fill-opacity="0.7"/>
<rect x="99.36" y="563.05" width="0.6" height="1.60" fill="#d62728" fill-opacity="0.7"/>
<rect x="100.08" y="563.05" width="0.6" height="2.10" fill="#d62728" fill-opacity="0.7"/>
<rect x="100.79" y="563.05" width="0.6" height="1.60" fill="#d62728" fill-opacity="0.7"/>
<rect x="101.50" y="563.05" width="0.6" height="1.60" fill="#d62728" fill-opacity="0.7"/>
<rect x="102.21" y="563.05" width="0.6" height="2.60" fill="#d62728" fill-opacity="0.7"/>
<rect x="102.92" y="563.05" width="0.6" height="3.60" fill="#d62728" fill-opacity="0.7"/>
<rect x="103.64" y="563.05" width="0.6" height="1.60" fill="#d62728" fill-opacity="0.7"/>
<rect x="104.35" y="563.05" width="0.6" height="1.60" fill="#d62728" fill-opacity="0.7"/>
<rect x="105.06" y="563.05" width="0.6" height="2.60" fill="#d62728" fill-opacity="0.7"/>
<rect x="105.77" y="563.05" width="0.6" height="1.60" fill="#d62728" fill-opacity="0.7"/>
<rect x="106.48" y="563.05" width="0.6" height="1.60" fill="#d62728" fill-opacity="0.7"/>
<rect x="107.20" y="563.05" width="0.6" height="2.10" fill="#d62728" fill-opacity="0.7"/>
<rect x="107.91" y="563.05" width="0.6" height="3.10" fill="#d62728" fill-opacity="0.7"/>
<rect x="108.62" y="563.05" width="0.6" height="1.60" fill="#d62728" fill-opacity="0.7"/>
<rect x="109.33" y="563.05" width="0.6" height="1.60" fill="#d62728" fill-opacity="0.7"/>
<rect x="110.04" y="563.05" width="0.6" height="1.60" fill="#d62728" fill-opacity="0.7"/>
<rect x="110.76" y="563.05" width="0.6" height="2.10" fill="#d62728" fill-opacity="0.7"/>
<rect x="111.47" y="563.05" width="0.6" height="4.10" fill="#d62728" fill-opacity="0.7"/>
<rect x="112.18" y="563.05" width="0.6" height="3.60" fill="#d62728" fill-opacity="0.7"/>
<rect x="112.89" y="563.05" width="0.6" height="3.10" fill="#d62728" fill-opacity="0.7"/>
<rect x="113.60" y="563.05" width="0.6" height="4.10" fill="#d62728" fill-opacity="0.7"/>
<rect x="114.32" y="563.05" width="0.6" height="4.10" fill="#d62728" fill-opacity="0.7"/>
<rect x="115.03" y="563.05" width="0.6" height="3.10" fill="#d62728" fill-opacity="0.7"/>
<rect x="115.74" y="563.05" width="0.6" height="2.60" fill="#d62728" fill-opacity="0.7"/>
<rect x="116.45" y="563.05" width="0.6" height="2.10" fill="#d62728" fill-opacity="0.7"/>
<rect x="117.16" y="563.05" width="0.6" height="1.60" fill="#d62728" fill-opacity="0.7"/>
<rect x="117.88" y="563.05" width="0.6" height="2.10" fill="#d62728" fill-opacity="0.7"/>
<rect x="118.59" y="563.05" width="0.6" height="1.60" fill="#d62728" fill-opacity="0.7"/>
<rect x="119.30" y="563.05" width="0.6" height="2.60" fill="#d62728" fill-opacity="0.7"/>
<rect x="120.01" y="563.05" width="0.6" height="4.10" fill="#d62728" fill-opacity="0.7"/>
<rect x="120.72" y="563.05" width="0.6" height="3.10" fill="#d62728" fill-opacity="0.7"/>
<rect x="121.44" y="563.05" width="0.6" height="4.10" fill="#d62728" fill-opacity="0.7"/>
<rect x="122.15" y="563.05" width="0.6" height="2.60" fill="#d62728" fill-opacity="0.7"/>
<rect x="122.86" y="563.05" width="0.6" height="1.60" fill="#d62728" fill-opacity="0.7"/>
<rect x="123.57" y="563.05" width="0.6" height="1.60" fill="#d62728" fill-opacity="0.7"/>
<rect x="124.28" y="563.05" width="0.6" height="3.60" fill="#d62728" fill-opacity="0.7"/>
<rect x="125.00" y="563.05" width="0.6" height="1.60" fill="#d62728" fill-opacity="0.7"/>
<rect x="125.71" y="563.05" width="0.6" height="3.10" fill="#d62728" fill-opacity="0.7"/>
<rect x="126.42" y="563.05" width="0.6" height="1.60" fill="#d62728" fill-opacity="0.7"/>
<rect x="127.13" y="563.05" width="0.6" height="4.10" fill="#d62728" fill-opacity="0.7"/>
<rect x="127.84" y="563.05" width="0.6" height="3.60" fill="#d62728" fill-opacity="0.7"/>
<rect x="128.56" y="563.05" width="0.6" height="1.60" fill="#d62728" fill-opacity="0.7"/>
<rect x="129.27" y="563.05" width="0.6" height="1.60" fill="#d62728" fill-opacity="0.7"/>
<rect x="129.98" y="563.05" width="0.6" height="3.10" fill="#d62728" fill-opacity="0.7"/>
<rect x="130.69" y="563.05" width="0.6" height="3.10" fill="#d62728" fill-opacity="0.7"/>
<rect x="131.40" y="563.05" width="0.6" height="3.10" fill="#d62728" fill-opacity="0.7"/>
<rect x="132.12" y="563.05" width="0.6" height="4.10" fill="#d62728" fill-opacity="0.7"/>
<rect x="132.83" y="563.05" width="0.6" height="4.10" fill="#d62728" fill-opacity="0.7"/>
<rect x="133.54" y="563.05" width="0.6" height="1.60" fill="#d62728" fill-opacity="0.7"/>
<rect x="134.25" y="563.05" width="0.6" height="1.60" fill="#d62728" fill-opacity="0.7"/>
<rect x="134.96" y="563.05" width="0.6" height="2.60" fill="#d62728" fill-opacity="0.7"/>
<rect x="135.68" y="563.05" width="0.6" height="4.10" fill="#d62728" fill-opacity="0.7"/>
<rect x="136.39" y="563.05" width="0.6" height="1.60" fill="#d62728" fill-opacity="0.7"/>
<rect x="137.10" y="563.05" width="0.6" height="1.60" fill="#d62728" fill-opacity="0.7"/>
<rect x="137.81" y="563.05" width="0.6" height="2.60" fill="#d62728" fill-opacity="0.7"/>
<rect x="138.52" y="563.05" width="0.6" height="4.10" fill="#d62728" fill-opacity="0.7"/>
<rect x="139.24" y="563.05" width="0.6" height="2.60" fill="#d62728" fill-opacity="0.7"/>
<rect x="139.95" y="563.05" width="0.6" height="3.60" fill="#d62728" fill-opacity="0.7"/>
<rect x="140.66" y="563.05" width="0.6" height="3.10" fill="#d62728" fill-opacity="0.7"/>
<rect x="141.37" y="563.05" width="0.6" height="1.60" fill="#d62728" fill-opacity="0.7"/>
<rect x="142.08" y="563.05" width="0.6" height="4.10" fill="#d62728" fill-opacity="0.7"/>
<rect x="142.80" y="563.05" width="0.6" height="3.10" fill="#d62728" fill-opacity="0.7"/>
<rect x="143.51" y="563.05" width="0.6" height="1.60" fill="#d62728" fill-opacity="0.7"/>
<rect x="144.22" y="563.05" width="0.6" height="1.60" fill="#d62728" fill-opacity="0.7"/>
<rect x="144.93" y="563.05" width="0.6" height="4.10" fill="#d62728" fill-opacity="0.7"/>
<rect x="145.64" y="563.05" width="0.6" height="1.60" fill="#d62728" fill-opacity="0.7"/>
<rect x="146.36" y="563.05" width="0.6" height="2.10" fill="#d62728" fill-opacity="0.7"/>
<rect x="147.07" y="563.05" width="0.6" height="2.60" fill="#d62728" fill-opacity="0.7"/>
<rect x="147.78" y="563.05" width="0.6" height="1.60" fill="#d62728" fill-opacity="0.7"/>
<rect x="148.49" y="563.05" width="0.6" height="2.10" fill="#d62728" fill-opacity="0.7"/>
<rect x="149.20" y="563.05" width="0.6" height="3.60" fill="#d62728" fill-opacity="0.7"/>
<rect x="149.92" y="563.05" width="0.6" height="3.60" fill="#d62728" fill-opacity="0.7"/>
<rect x="150.63" y="563.05" width="0.6" height="4.10" fill="#d62728" fill-opacity="0.7"/>
<rect x="151.34" y="563.05" width="0.6" height="1.60" fill="#d62728" fill-opacity="0.7"/>
<rect x="152.05" y="563.05" width="0.6" height="1.60" fill="#d62728" fill-opacity="0.7"/>
<rect x="152.76" y="563.05" width="0.6" height="4.10" fill="#d62728" fill-opacity="0.7"/>
<rect x="153.48" y="563.05" width="0.6" height="3.60" fill="#d62728" fill-opacity="0.7"/>
<rect x="154.19" y="563.05" width="0.6" height="2.60" fill="#d62728" fill-opacity="0.7"/>
<rect x="154.90" y="563.05" width="0.6" height="1.60" fill="#d62728" fill-opacity="0.7"/>
<rect x="155.61" y="563.05" width="0.6" height="3.60" fill="#d62728" fill-opacity="0.7"/>
<rect x="156.32" y="563.05" width="0.6" height="2.60" fill="#d62728" fill-opacity="0.7"/>
<rect x="157.04" y="563.05" width="0.6" height="3.60" fill="#d62728" fill-opacity="0.7"/>
<rect x="157.75" y="563.05" width="0.6" height="3.10" fill="#d62728" fill-opacity="0.7"/>
<rect x="158.46" y="563.05" width="0.6" height="3.60" fill="#d62728" fill-opacity="0.7"/>
<rect x="159.17" y="563.05" width="0.6" height="2.10" fill="#d62728" fill-opacity="0.7"/>
<rect x="159.88" y="563.05" width="0.6" height="1.60" fill="#d62728" fill-opacity="0.7"/>
<rect x="160.60" y="563.05" width="0.6" height="1.60" fill="#d62728" fill-opacity="0.7"/>
<rect x="161.31" y="563.05" width="0.6" height="1.60" fill="#d62728" fill-opacity="0.7"/>
<rect x="162.02" y="563.05" width="0.6" height="1.60" fill="#d62728" fill-opacity="0.7"/>
<rect x="162.73" y="563.05" width="0.6" height="2.10" fill="#d62728" fill-opacity="0.7"/>
<rect x="163.44" y="563.05" width="0.6" height="2.10" fill="#d62728" fill-opacity="0.7"/>
<rect x="164.16" y="563.05" width="0.6" height="1.60" fill="#d62728" fill-opacity="0.7"/>
<rect x="164.87" y="563.05" width="0.6" height="4.10" fill="#d62728" fill-opacity="0.7"/>
<rect x="165.58" y="563.05" width="0.6" height="1.60" fill="#d62728" fill-opacity="0.7"/>
<rect x="166.29" y="563.05" width="0.6" height="2.60" fill="#d62728" fill-opacity="0.7"/>
<rect x="167.00" y="563.05" width="0.6" height="2.60" fill="#d62728" fill-opacity="0.7"/>
<rect x="167.72" y="563.05" width="0.6" height="1.60" fill="#d62728" fill-opacity="0.7"/>
<rect x="168.43" y="563.05" width="0.6" height="1.60" fill="#d62728" fill-opacity="0.7"/>
<rect x="169.14" y="563.05" width="0.6" height="3.60" fill="#d62728" fill-opacity="0.7"/>
<rect x="169.85" y="563.05" width="0.6" height="3.10" fill="#d62728" fill-opacity="0.7"/>
<rect x="170.56" y="563.05" width="0.6" height="3.10" fill="#d62728" fill-opacity="0.7"/>
<rect x="171.28" y="563.05" width="0.6" height="1.60" fill="#d62728" fill-opacity="0.7"/>
<rect x="171.99" y="563.05" width="0.6" height="1.60" fill="#d62728" fill-opacity="0.7"/>
<rect x="172.70" y="563.05" width="0.6" height="4.10" fill="#d62728" fill-opacity="0.7"/>
<rect x="173.41" y="563.05" width="0.6" height="3.60" fill="#d62728" fill-opacity="0.7"/>
<rect x="174.12" y="563.05" width="0.6" height="3.60" fill="#d62728" fill-opacity="0.7"/>
<rect x="174.84" y="563.05" width="0.6" height="3.60" fill="#d62728" fill-opacity="0.7"/>
<rect x="175.55" y="563.05" width="0.6" height="3.60" fill="#d62728" fill-opacity="0.7"/>
<rect x="176.26" y="563.05" width="0.6" height="1.60" fill="#d62728" fill-opacity="0.7"/>
<rect x="176.97" y="563.05" width="0.6" height="4.10" fill="#d62728" fill-opacity="0.7"/>
<rect x="177.68" y="563.05" width="0.6" height="3.60" fill="#d62728" fill-opacity="0.7"/>
<rect x="178.40" y="563.05" width="0.6" height="1.60" fill="#d62728" fill-opacity="0.7"/>
<rect x="179.11" y="563.05" width="0.6" height="2.10" fill="#d62728" fill-opacity="0.7"/>
<rect x="179.82" y="563.05" width="0.6" height="1.60" fill="#d62728" fill-opacity="0.7"/>
<rect x="180.53" y="563.05" width="0.6" height="2.10" fill="#d62728" fill-opacity="0.7"/>
<rect x="181.24" y="563.05" width="0.6" height="4.10" fill="#d62728" fill-opacity="0.7"/>
<rect x="181.96" y="563.05" width="0.6" height="1.60" fill="#d62728" fill-opacity="0.7"/>
<rect x="182.67" y="563.05" width="0.6" height="1.60" fill="#d62728" fill-opacity="0.7"/>
<rect x="183.38" y="563.05" width="0.6" height="3.10" fill="#d62728" fill-opacity="0.7"/>
<rect x="184.09" y="563.05" width="0.6" height="1.60" fill="#d62728" fill-opacity="0.7"/>
<rect x="184.80" y="563.05" width="0.6" height="1.60" fill="#d62728" fill-opacity="0.7"/>
<rect x="185.52" y="563.05" width="0.6" height="1.60" fill="#d62728" fill-opacity="0.7"/>
<rect x="186.23" y="563.05" width="0.6" height="1.60" fill="#d62728" fill-opacity="0.7"/>
<rect x="186.94" y="563.05" width="0.6" height="1.60" fill="#d62728" fill-opacity="0.7"/>
<rect x="187.65" y="563.05" width="0.6" height="3.10" fill="#d62728" fill-opacity="0.7"/>
<rect x="188.36" y="563.05" width="0.6" height="1.60" fill="#d62728" fill-opacity="0.7"/>
<rect x="189.08" y="563.05" width="0.6" height="1.60" fill="#d62728" fill-opacity="0.7"/>
<rect x="189.79" y="563.05" width="0.6" height="2.10" fill="#d62728" fill-opacity="0.7"/>
<rect x="190.50" y="563.05" width="0.6" height="3.60" fill="#d62728" fill-opacity="0.7"/>
<rect x="191.21" y="563.05" width="0.6" height="1.60" fill="#d62728" fill-opacity="0.7"/>
<rect x="191.92" y="563.05" width="0.6" height="2.60" fill="#d62728" fill-opacity="0.7"/>
<rect x="192.64" y="563.05" width="0.6" height="3.10" fill="#d62728" fill-opacity="0.7"/>
<rect x="193.35" y="563.05" width="0.6" height="3.10" fill="#d62728" fill-opacity="0.7"/>
<rect x="194.06" y="563.05" width="0.6" height="4.10" fill="#d62728" fill-opacity="0.7"/>
<rect x="194.77" y="563.05" width="0.6" height="1.60" fill="#d62728" fill-opacity="0.7"/>
<rect x="195.48" y="563.05" width="0.6" height="1.60" fill="#d62728" fill-opacity="0.7"/>
<rect x="196.20" y="563.05" width="0.6" height="4.10" fill="#d62728" fill-opacity="0.7"/>
<rect x="196.91" y="563.05" width="0.6" height="4.10" fill="#d62728" fill-opacity="0.7"/>
<rect x="197.62" y="563.05" width="0.6" height="4.10" fill="#d62728" fill-opacity="0.7"/>
<rect x="198.33" y="563.05" width="0.6" height="4.10" fill="#d62728" fill-opacity="0.7"/>
<rect x="199.04" y="563.05" width="0.6" height="2.60" fill="#d62728" fill-opacity="0.7"/>
<rect x="199.76" y="563.05" width="0.6" height="1.60" fill="#d62728" fill-opacity="0.7"/>
<rect x="200.47" y="563.05" width="0.6" height="1.60" fill="#d62728" fill-opacity="0.7"/>
<rect x="201.18" y="563.05" width="0.6" height="1.60" fill="#d62728" fill-opacity="0.7"/>
<rect x="201.89" y="563.05" width="0.6" height="3.10" fill="#d62728" fill-opacity="0.7"/>
<rect x="202.60" y="563.05" width="0.6" height="2.60" fill="#d62728" fill-opacity="0.7"/>
<rect x="203.32" y="563.05" width="0.6" height="4.10" fill="#d62728" fill-opacity="0.7"/>
<rect x="204.03" y="563.05" width="0.6" height="1.60" fill="#d62728" fill-opacity="0.7"/>
<rect x="204.74" y="563.05" width="0.6" height="1.60" fill="#d62728" fill-opacity="0.7"/>
<rect x="205.45" y="563.05" width="0.6" height="2.10" fill="#d62728" fill-opacity="0.7"/>
<rect x="206.16" y="563.05" width="0.6" height="3.10" fill="#d62728" fill-opacity="0.7"/>
<rect x="206.88" y="563.05" width="0.6" height="1.60" fill="#d62728" fill-opacity="0.7"/>
<rect x="207.59" y="563.05" width="0.6" height="1.60" fill="#d62728" fill-opacity="0.7"/>
<rect x="208.30" y="563.05" width="0.6" height="2.60" fill="#d62728" fill-opacity="0.7"/>
<rect x="209.01" y="563.05" width="0.6" height="1.60" fill="#d62728" fill-opacity="0.7"/>
<rect x="209.72" y="563.05" width="0.6" height="2.60" fill="#d62728" fill-opacity="0.7"/>
<rect x="210.44" y="563.05" width="0.6" height="3.10" fill="#d62728" fill-opacity="0.7"/>
<rect x="211.15" y="563.05" width="0.6" height="1.60" fill="#d62728" fill-opacity="0.7"/>
<rect x="211.86" y="563.05" width="0.6" height="3.10" fill="#d62728" fill-opacity="0.7"/>
<rect x="212.57" y="563.05" width="0.6" height="2.10" fill="#d62728" fill-opacity="0.7"/>
<rect x="213.28" y="563.05" width="0.6" height="3.10" fill="#d62728" fill-opacity="0.7"/>
<rect x="214.00" y="563.05" width="0.6" height="2.10" fill="#d62728" fill-opacity="0.7"/>
<rect x="214.71" y="563.05" width="0.6" height="2.10" fill="#d62728" fill-opacity="0.7"/>
<rect x="215.42" y="563.05" width="0.6" height="2.10" fill="#d62728" fill-opacity="0.7"/>
<rect x="216.13" y="563.05" width="0.6" height="3.60" fill="#d62728" fill-opacity="0.7"/>
<rect x="216.84" y="563.05" width="0.6" height="2.10" fill="#d62728" fill-opacity="0.7"/>
<rect x="217.56" y="563.05" width="0.6" height="2.10" fill="#d62728" fill-opacity="0.7"/>
<rect x="218.27" y="563.05" width="0.6" height="4.10" fill="#d62728" fill-opacity="0.7"/>
<rect x="218.98" y="563.05" width="0.6" height="3.10" fill="#d62728" fill-opacity="0.7"/>
<rect x="219.69" y="563.05" width="0.6" height="1.60" fill="#d62728" fill-opacity="0.7"/>
<rect x="220.40" y="563.05" width="0.6" height="1.60" fill="#d62728" fill-opacity="0.7"/>
<rect x="221.12" y="563.05" width="0.6" height="2.60" fill="#d62728" fill-opacity="0.7"/>
<rect x="221.83" y="563.05" width="0.6" height="4.10" fill="#d62728" fill-opacity="0.7"/>
<rect x="222.54" y="563.05" width="0.6" height="2.60" fill="#d62728" fill-opacity="0.7"/>
<rect x="223.25" y="563.05" width="0.6" height="2.10" fill="#d62728" fill-opacity="0.7"/>
<rect x="223.96" y="563.05" width="0.6" height="3.10" fill="#d62728" fill-opacity="0.7"/>
<rect x="224.68" y="563.05" width="0.6" height="4.10" fill="#d62728" fill-opacity="0.7"/>
<rect x="225.39" y="563.05" width="0.6" height="3.10" fill="#d62728" fill-opacity="0.7"/>
<rect x="226.10" y="563.05" width="0.6" height="3.10" fill="#d62728" fill-opacity="0.7"/>
<rect x="226.81" y="563.05" width="0.6" height="1.60" fill="#d62728" fill-opacity="0.7"/>
<rect x="227.52" y="563.05" width="0.6" height="2.10" fill="#d62728" fill-opacity="0.7"/>
<rect x="228.24" y="563.05" width="0.6" height="1.60" fill="#d62728" fill-opacity="0.7"/>
<rect x="228.95" y="563.05" width="0.6" height="2.10" fill="#d62728" fill-opacity="0.7"/>
<rect x="229.66" y="563.05" width="0.6" height="4.10" fill="#d62728" fill-opacity="0.7"/>
<rect x="230.37" y="563.05" width="0.6" height="2.10" fill="#d62728" fill-opacity="0.7"/>
<rect x="231.08" y="563.05" width="0.6" height="3.10" fill="#d62728" fill-opacity="0.7"/>
<rect x="231.80" y="563.05" width="0.6" height="2.10" fill="#d62728" fill-opacity="0.7"/>
<rect x="232.51" y="563.05" width="0.6" height="4.10" fill="#d62728" fill-opacity="0.7"/>
<rect x="233.22" y="563.05" width="0.6" height="1.60" fill="#d62728" fill-opacity="0.7"/>
<rect x="233.93" y="563.05" width="0.6" height="4.10" fill="#d62728" fill-opacity="0.7"/>
<rect x="234.64" y="563.05" width="0.6" height="3.10" fill="#d62728" fill-opacity="0.7"/>
<rect x="235.36" y="563.05" width="0.6" height="1.60" fill="#d62728" fill-opacity="0.7"/>
<rect x="236.07" y="563.05" width="0.6" height="1.60" fill="#d62728" fill-opacity="0.7"/>
<rect x="236.78" y="563.05" width="0.6" height="3.60" fill="#d62728" fill-opacity="0.7"/>
<rect x="237.49" y="563.05" width="0.6" height="2.10" fill="#d62728" fill-opacity="0.7"/>
<rect x="238.20" y="563.05" width="0.6" height="4.10" fill="#d62728" fill-opacity="0.7"/>
<rect x="238.92" y="563.05" width="0.6" height="1.60" fill="#d62728" fill-opacity="0.7"/>
<rect x="239.63" y="563.05" width="0.6" height="3.60" fill="#d62728" fill-opacity="0.7"/>
<rect x="240.34" y="563.05" width="0.6" height="3.10" fill="#d62728" fill-opacity="0.7"/>
<rect x="241.05" y="563.05" width="0.6" height="1.60" fill="#d62728" fill-opacity="0.7"/>
<rect x="241.76" y="563.05" width="0.6" height="3.60" fill="#d62728" fill-opacity="0.7"/>
<rect x="242.48" y="563.05" width="0.6" height="4.10" fill="#d62728" fill-opacity="0.7"/>
<rect x="243.19" y="563.05" width="0.6" height="3.60" fill="#d62728" fill-opacity="0.7"/>
<rect x="243.90" y="563.05" width="0.6" height="1.60" fill="#d62728" fill-opacity="0.7"/>
<rect x="244.61" y="563.05" width="0.6" height="1.60" fill="#d62728" fill-opacity="0.7"/>
<rect x="245.32" y="563.05" width="0.6" height="1.60" fill="#d62728" fill-opacity="0.7"/>
<rect x="246.04" y="563.05" width="0.6" height="1.60" fill="#d62728" fill-opacity="0.7"/>
<rect x="246.75" y="563.05" width="0.6" height="1.60" fill="#d62728" fill-opacity="0.7"/>
<rect x="247.46" y="563.05" width="0.6" height="1.60" fill="#d62728" fill-opacity="0.7"/>
<rect x="248.17" y="563.05" width="0.6" height="4.10" fill="#d62728" fill-opacity="0.7"/>
<rect x="248.88" y="563.05" width="0.6" height="1.60" fill="#d62728" fill-opacity="0.7"/>
<rect x="249.60" y="563.05" width="0.6" height="4.10" fill="#d62728" fill-opacity="0.7"/>
<rect x="250.31" y="563.05" width="0.6" height="3.10" fill="#d62728" fill-opacity="0.7"/>
<rect x="251.02" y="563.05" width="0.6" height="1.60" fill="#d62728" fill-opacity="0.7"/>
<rect x="251.73" y="563.05" width="0.6" height="1.60" fill="#d62728" fill-opacity="0.7"/>
<rect x="252.44" y="563.05" width="0.6" height="1.60" fill="#d62728" fill-opacity="0.7"/>
<rect x="253.16" y="563.05" width="0.6" height="1.60" fill="#d62728" fill-opacity="0.7"/>
<rect x="253.87" y="563.05" width="0.6" height="1.60" fill="#d62728" fill-opacity="0.7"/>
<rect x="254.58" y="563.05" width="0.6" height="1.60" fill="#d62728" fill-opacity="0.7"/>
<rect x="255.29" y="563.05" width="0.6" height="3.60" fill="#d62728" fill-opacity="0.7"/>
<rect x="256.00" y="563.05" width="0.6" height="2.10" fill="#d62728" fill-opacity="0.7"/>
<rect x="256.72" y="563.05" width="0.6" height="2.10" fill="#d62728" fill-opacity="0.7"/>
<rect x="257.43" y="563.05" width="0.6" height="1.60" fill="#d62728" fill-opacity="0.7"/>
<rect x="258.14" y="563.05" width="0.6" height="2.60" fill="#d62728" fill-opacity="0.7"/>
<rect x="258.85" y="563.05" width="0.6" height="2.10" fill="#d62728" fill-opacity="0.7"/>
<rect x="259.56" y="563.05" width="0.6" height="2.60" fill="#d62728" fill-opacity="0.7"/>
<rect x="260.28" y="563.05" width="0.6" height="2.10" fill="#d62728" fill-opacity="0.7"/>
<rect x="260.99" y="563.05" width="0.6" height="3.10" fill="#d62728" fill-opacity="0.7"/>
<rect x="261.70" y="563.05" width="0.6" height="2.60" fill="#d62728" fill-opacity="0.7"/>
<rect x="262.41" y="563.05" width="0.6" height="3.60" fill="#d62728" fill-opacity="0.7"/>
<rect x="263.12" y="563.05" width="0.6" height="1.60" fill="#d62728" fill-opacity="0.7"/>
<rect x="263.84" y="563.05" width="0.6" height="1.60" fill="#d62728" fill-opacity="0.7"/>
<rect x="264.55" y="563.05" width="0.6" height="3.10" fill="#d62728" fill-opacity="0.7"/>
<rect x="265.26" y="563.05" width="0.6" height="4.10" fill="#d62728" fill-opacity="0.7"/>
<rect x="265.97" y="563.05" width="0.6" height="3.60" fill="#d62728" fill-opacity="0.7"/>
<rect x="266.68" y="563.05" width="0.6" height="1.60" fill="#d62728" fill-opacity="0.7"/>
<rect x="267.40" y="563.05" width="0.6" height="1.60" fill="#d62728" fill-opacity="0.7"/>
<rect x="268.11" y="563.05" width="0.6" height="1.60" fill="#d62728" fill-opacity="0.7"/>
<rect x="268.82" y="563.05" width="0.6" height="4.10" fill="#d62728" fill-opacity="0.7"/>
<rect x="269.53" y="563.05" width="0.6" height="1.60" fill="#d62728" fill-opacity="0.7"/>
<rect x="270.24" y="563.05" width="0.6" height="1.60" fill="#d62728" fill-opacity="0.7"/>
<rect x="270.96" y="563.05" width="0.6" height="1.60" fill="#d62728" fill-opacity="0.7"/>
<rect x="271.67" y="563.05" width="0.6" height="1.60" fill="#d62728" fill-opacity="0.7"/>
<rect x="272.38" y="563.05" width="0.6" height="1.60" fill="#d62728" fill-opacity="0.7"/>
<rect x="273.09" y="563.05" width="0.6" height="4.10" fill="#d62728" fill-opacity="0.7"/>
<rect x="273.80" y="563.05" width="0.6" height="1.60" fill="#d62728" fill-opacity="0.7"/>
<rect x="274.52" y="563.05" width="0.6" height="1.60" fill="#d62728" fill-opacity="0.7"/>
<rect x="275.23" y="563.05" width="0.6" height="3.10" fill="#d62728" fill-opacity="0.7"/>
<rect x="275.94" y="563.05" width="0.6" height="4.10" fill="#d62728" fill-opacity="0.7"/>
<rect x="276.65" y="563.05" width="0.6" height="1.60" fill="#d62728" fill-opacity="0.7"/>
<rect x="277.36" y="563.05" width="0.6" height="1.60" fill="#d62728" fill-opacity="0.7"/>
<rect x="278.08" y="563.05" width="0.6" height="2.10" fill="#d62728" fill-opacity="0.7"/>
<rect x="278.79" y="563.05" width="0.6" height="2.10" fill="#d62728" fill-opacity="0.7"/>
<rect x="279.50" y="563.05" width="0.6" height="2.60" fill="#d62728" fill-opacity="0.7"/>
<rect x="280.21" y="563.05" width="0.6" height="1.60" fill="#d62728" fill-opacity="0.7"/>
<rect x="280.92" y="563.05" width="0.6" height="1.60" fill="#d62728" fill-opacity="0.7"/>
<rect x="281.64" y="563.05" width="0.6" height="4.10" fill="#d62728" fill-opacity="0.7"/>
<rect x="282.35" y="563.05" width="0.6" height="1.60" fill="#d62728" fill-opacity="0.7"/>
<rect x="283.06" y="563.05" width="0.6" height="1.60" fill="#d62728" fill-opacity="0.7"/>
<rect x="283.77" y="563.05" width="0.6" height="4.10" fill="#d62728" fill-opacity="0.7"/>
<rect x="284.48" y="563.05" width="0.6" height="3.10" fill="#d62728" fill-opacity="0.7"/>
<rect x="285.20" y="563.05" width="0.6" height="2.10" fill="#d62728" fill-opacity="0.7"/>
<rect x="285.91" y="563.05" width="0.6" height="2.60" fill="#d62728" fill-opacity="0.7"/>
<rect x="286.62" y="563.05" width="0.6" height="4.10" fill="#d62728" fill-opacity="0.7"/>
<rect x="287.33" y="563.05" width="0.6" height="4.10" fill="#d62728" fill-opacity="0.7"/>
<rect x="288.04" y="563.05" width="0.6" height="2.10" fill="#d62728" fill-opacity="0.7"/>
<rect x="288.76" y="563.05" width="0.6" height="2.60" fill="#d62728" fill-opacity="0.7"/>
<rect x="289.47" y="563.05" width="0.6" height="2.10" fill="#d62728" fill-opacity="0.7"/>
<rect x="290.18" y="563.05" width="0.6" height="4.10" fill="#d62728" fill-opacity="0.7"/>
<rect x="290.89" y="563.05" width="0.6" height="1.60" fill="#d62728" fill-opacity="0.7"/>
<rect x="291.60" y="563.05" width="0.6" height="3.60" fill="#d62728" fill-opacity="0.7"/>
<rect x="292.32" y="563.05" width="0.6" height="1.60" fill="#d62728" fill-opacity="0.7"/>
<rect x="293.03" y="563.05" width="0.6" height="3.60" fill="#d62728" fill-opacity="0.7"/>
<rect x="293.74" y="563.05" width="0.6" height="4.10" fill="#d62728" fill-opacity="0.7"/>
<rect x="294.45" y="563.05" width="0.6" height="3.10" fill="#d62728" fill-opacity="0.7"/>
<rect x="295.16" y="563.05" width="0.6" height="1.60" fill="#d62728" fill-opacity="0.7"/>
<rect x="295.88" y="563.05" width="0.6" height="2.10" fill="#d62728" fill-opacity="0.7"/>
<rect x="296.59" y="563.05" width="0.6" height="3.60" fill="#d62728" fill-opacity="0.7"/>
<rect x="297.30" y="563.05" width="0.6" height="1.60" fill="#d62728" fill-opacity="0.7"/>
<rect x="298.01" y="563.05" width="0.6" height="2.10" fill="#d62728" fill-opacity="0.7"/>
<rect x="298.72" y="563.05" width="0.6" height="2.60" fill="#d62728" fill-opacity="0.7"/>
<rect x="299.44" y="563.05" width="0.6" height="1.60" fill="#d62728" fill-opacity="0.7"/>
<rect x="300.15" y="563.05" width="0.6" height="1.60" fill="#d62728" fill-opacity="0.7"/>
<rect x="300.86" y="563.05" width="0.6" height="3.10" fill="#d62728" fill-opacity="0.7"/>
<rect x="301.57" y="563.05" width="0.6" height="1.60" fill="#d62728" fill-opacity="0.7"/>
<rect x="302.28" y="563.05" width="0.6" height="2.60" fill="#d62728" fill-opacity="0.7"/>
<rect x="303.00" y="563.05" width="0.6" height="1.60" fill="#d62728" fill-opacity="0.7"/>
<rect x="303.71" y="563.05" width="0.6" height="4.10" fill="#d62728" fill-opacity="0.7"/>
<rect x="304.42" y="563.05" width="0.6" height="2.10" fill="#d62728" fill-opacity="0.7"/>
<rect x="305.13" y="563.05" width="0.6" height="1.60" fill="#d62728" fill-opacity="0.7"/>
<rect x="305.84" y="563.05" width="0.6" height="3.60" fill="#d62728" fill-opacity="0.7"/>
<rect x="306.56" y="563.05" width="0.6" height="4.10" fill="#d62728" fill-opacity="0.7"/>
<rect x="307.27" y="563.05" width="0.6" height="1.60" fill="#d62728" fill-opacity="0.7"/>
<rect x="307.98" y="563.05" width="0.6" height="2.10" fill="#d62728" fill-opacity="0.7"/>
<rect x="308.69" y="563.05" width="0.6" height="1.60" fill="#d62728" fill-opacity="0.7"/>
<rect x="309.40" y="563.05" width="0.6" height="3.60" fill="#d62728" fill-opacity="0.7"/>
<rect x="310.12" y="563.05" width="0.6" height="3.60" fill="#d62728" fill-opacity="0.7"/>
<rect x="310.83" y="563.05" width="0.6" height="3.10" fill="#d62728" fill-opacity="0.7"/>
<rect x="311.54" y="563.05" width="0.6" height="3.60" fill="#d62728" fill-opacity="0.7"/>
<rect x="312.25" y="563.05" width="0.6" height="2.10" fill="#d62728" fill-opacity="0.7"/>
<rect x="312.96" y="563.05" width="0.6" height="3.10" fill="#d62728" fill-opacity="0.7"/>
<rect x="313.68" y="563.05" width="0.6" height="3.10" fill="#d62728" fill-opacity="0.7"/>
<rect x="314.39" y="563.05" width="0.6" height="1.60" fill="#d62728" fill-opacity="0.7"/>
<rect x="315.10" y="563.05" width="0.6" height="3.10" fill="#d62728" fill-opacity="0.7"/>
<rect x="315.81" y="563.05" width="0.6" height="1.60" fill="#d62728" fill-opacity="0.7"/>
<rect x="316.52" y="563.05" width="0.6" height="3.10" fill="#d62728" fill-opacity="0.7"/>
<rect x="317.24" y="563.05" width="0.6" height="4.10" fill="#d62728" fill-opacity="0.7"/>
<rect x="317.95" y="563.05" width="0.6" height="4.10" fill="#d62728" fill-opacity="0.7"/>
<rect x="318.66" y="563.05" width="0.6" height="1.60" fill="#d62728" fill-opacity="0.7"/>
<rect x="319.37" y="563.05" width="0.6" height="3.60" fill="#d62728" fill-opacity="0.7"/>
<rect x="320.08" y="563.05" width="0.6" height="3.10" fill="#d62728" fill-opacity="0.7"/>
<rect x="320.80" y="563.05" width="0.6" height="2.60" fill="#d62728" fill-opacity="0.7"/>
<rect x="321.51" y="563.05" width="0.6" height="1.60" fill="#d62728" fill-opacity="0.7"/>
<line x1="19.5" y1="563.05" x2="322.5" y2="563.05" stroke="#c4acac" stroke-width="0.8"/>
<rect x="19.5" y="442.7" width="303.00" height="240.80" fill="none" stroke="#cbcbcb" stroke-width="1"/>
<line x1="19.5" y1="442.2" x2="19.5" y2="684.7" stroke="#a8a8a8" stroke-width="1"/>
<line x1="17.90" y1="675.49" x2="19.50" y2="675.49" stroke="#c4c4c4" stroke-width="0.5"/>
<line x1="17.90" y1="659.42" x2="19.50" y2="659.42" stroke="#c4c4c4" stroke-width="0.5"/>
<line x1="17.90" y1="643.36" x2="19.50" y2="643.36" stroke="#c4c4c4" stroke-width="0.5"/>
<line x1="17.90" y1="627.30" x2="19.50" y2="627.30" stroke="#c4c4c4" stroke-width="0.5"/>
<line x1="17.90" y1="611.24" x2="19.50" y2="611.24" stroke="#c4c4c4" stroke-width="0.5"/>
<line x1="17.90" y1="595.17" x2="19.50" y2="595.17" stroke="#c4c4c4" stroke-width="0.5"/>
<line x1="17.90" y1="579.11" x2="19.50" y2="579.11" stroke="#c4c4c4" stroke-width="0.5"/>
<line x1="17.90" y1="563.05" x2="19.50" y2="563.05" stroke="#c4c4c4" stroke-width="0.5"/>
<line x1="17.90" y1="546.99" x2="19.50" y2="546.99" stroke="#c4c4c4" stroke-width="0.5"/>
<line x1="17.90" y1="530.92" x2="19.50" y2="530.92" stroke="#c4c4c4" stroke-width="0.5"/>
<line x1="17.90" y1="514.86" x2="19.50" y2="514.86" stroke="#c4c4c4" stroke-width="0.5"/>
<line x1="17.90" y1="498.80" x2="19.50" y2="498.80" stroke="#c4c4c4" stroke-width="0.5"/>
<line x1="17.90" y1="482.74" x2="19.50" y2="482.74" stroke="#c4c4c4" stroke-width="0.5"/>
<line x1="17.90" y1="466.67" x2="19.50" y2="466.67" stroke="#c4c4c4" stroke-width="0.5"/>
<line x1="17.90" y1="450.61" x2="19.50" y2="450.61" stroke="#c4c4c4" stroke-width="0.5"/>
<line x1="19.60" y1="683.50" x2="19.60" y2="684.90" stroke="#c4c4c4" stroke-width="0.5"/>
<line x1="55.20" y1="683.50" x2="55.20" y2="684.90" stroke="#c4c4c4" stroke-width="0.5"/>
<line x1="90.80" y1="683.50" x2="90.80" y2="684.90" stroke="#c4c4c4" stroke-width="0.5"/>
<line x1="126.40" y1="683.50" x2="126.40" y2="684.90" stroke="#c4c4c4" stroke-width="0.5"/>
<line x1="162.00" y1="683.50" x2="162.00" y2="684.90" stroke="#c4c4c4" stroke-width="0.5"/>
<line x1="197.60" y1="683.50" x2="197.60" y2="684.90" stroke="#c4c4c4" stroke-width="0.5"/>
<line x1="233.20" y1="683.50" x2="233.20" y2="684.90" stroke="#c4c4c4" stroke-width="0.5"/>
<line x1="268.80" y1="683.50" x2="268.80" y2="684.90" stroke="#c4c4c4" stroke-width="0.5"/>
<line x1="304.40" y1="683.50" x2="304.40" y2="684.90" stroke="#c4c4c4" stroke-width="0.5"/>
<text x="17.80" y="677.04" font-size="3.7" text-anchor="end" fill="#111" stroke="#111" stroke-width="0.08">0.0175</text>
<text x="17.80" y="660.97" font-size="3.7" text-anchor="end" fill="#111" stroke="#111" stroke-width="0.08">0.0150</text>
<text x="17.80" y="644.91" font-size="3.7" text-anchor="end" fill="#111" stroke="#111" stroke-width="0.08">0.0125</text>
<text x="17.80" y="628.85" font-size="3.7" text-anchor="end" fill="#111" stroke="#111" stroke-width="0.08">0.0100</text>
<text x="17.80" y="612.79" font-size="3.7" text-anchor="end" fill="#111" stroke="#111" stroke-width="0.08">0.0075</text>
<text x="17.80" y="596.72" font-size="3.7" text-anchor="end" fill="#111" stroke="#111" stroke-width="0.08">0.0050</text>
<text x="17.80" y="580.66" font-size="3.7" text-anchor="end" fill="#111" stroke="#111" stroke-width="0.08">0.0025</text>
<text x="17.80" y="564.60" font-size="3.7" text-anchor="end" fill="#111" stroke="#111" stroke-width="0.08">0.0000</text>
<text x="17.80" y="548.54" font-size="3.7" text-anchor="end" fill="#111" stroke="#111" stroke-width="0.08">0.0025</text>
<text x="17.80" y="532.47" font-size="3.7" text-anchor="end" fill="#111" stroke="#111" stroke-width="0.08">0.0050</text>
<text x="17.80" y="516.41" font-size="3.7" text-anchor="end" fill="#111" stroke="#111" stroke-width="0.08">0.0075</text>
<text x="17.80" y="500.35" font-size="3.7" text-anchor="end" fill="#111" stroke="#111" stroke-width="0.08">0.0100</text>
<text x="17.80" y="484.29" font-size="3.7" text-anchor="end" fill="#111" stroke="#111" stroke-width="0.08">0.0125</text>
<text x="17.80" y="468.22" font-size="3.7" text-anchor="end" fill="#111" stroke="#111" stroke-width="0.08">0.0150</text>
<text x="17.80" y="452.16" font-size="3.7" text-anchor="end" fill="#111" stroke="#111" stroke-width="0.08">0.0175</text>
<text x="19.60" y="687.90" font-size="3.7" text-anchor="middle" fill="#111" stroke="#111" stroke-width="0.08">0</text>
<text x="55.20" y="687.90" font-size="3.7" text-anchor="middle" fill="#111" stroke="#111" stroke-width="0.08">50</text>
<text x="90.80" y="687.90" font-size="3.7" text-anchor="middle" fill="#111" stroke="#111" stroke-width="0.08">100</text>
<text x="126.40" y="687.90" font-size="3.7" text-anchor="middle" fill="#111" stroke="#111" stroke-width="0.08">150</text>
<text x="162.00" y="687.90" font-size="3.7" text-anchor="middle" fill="#111" stroke="#111" stroke-width="0.08">200</text>
<text x="197.60" y="687.90" font-size="3.7" text-anchor="middle" fill="#111" stroke="#111" stroke-width="0.08">250</text>
<text x="233.20" y="687.90" font-size="3.7" text-anchor="middle" fill="#111" stroke="#111" stroke-width="0.08">300</text>
<text x="268.80" y="687.90" font-size="3.7" text-anchor="middle" fill="#111" stroke="#111" stroke-width="0.08">350</text>
<text x="304.40" y="687.90" font-size="3.7" text-anchor="middle" fill="#111" stroke="#111" stroke-width="0.08">400</text>
<text x="150.90" y="694.10" font-size="5.4" textLength="40.2" lengthAdjust="spacingAndGlyphs" fill="#222">Mass/Charge (m/z)</text>
<text transform="translate(6.20,563.40) rotate(-90)" x="0" y="0" font-size="5.3" textLength="39" lengthAdjust="spacingAndGlyphs" text-anchor="middle" fill="#222">Relative Intensity</text>
<rect x="21.50" y="444.70" width="35.7" height="15.1" rx="0.8" fill="#fff" fill-opacity="0.8" stroke="#e3e3e3" stroke-width="0.6"/>
<rect x="23.50" y="447.30" width="8.6" height="2.9" fill="#1f77b4"/>
<rect x="23.50" y="454.00" width="8.6" height="2.9" fill="#d62728"/>
<text x="35.90" y="450.00" font-size="4.8" fill="#222">Real</text>
<text x="35.90" y="456.80" font-size="4.8" fill="#222">Predicted</text>
</g>
<g>
<line x1="380.8" y1="683.15" x2="683.5" y2="683.15" stroke="#f7f7f7" stroke-width="1"/>
<line x1="380.8" y1="659.14" x2="683.5" y2="659.14" stroke="#f7f7f7" stroke-width="1"/>
<line x1="380.8" y1="635.13" x2="683.5" y2="635.13" stroke="#f7f7f7" stroke-width="1"/>
<line x1="380.8" y1="611.12" x2="683.5" y2="611.12" stroke="#f7f7f7" stroke-width="1"/>
<line x1="380.8" y1="587.11" x2="683.5" y2="587.11" stroke="#f7f7f7" stroke-width="1"/>
<line x1="380.8" y1="563.10" x2="683.5" y2="563.10" stroke="#f7f7f7" stroke-width="1"/>
<line x1="380.8" y1="539.09" x2="683.5" y2="539.09" stroke="#f7f7f7" stroke-width="1"/>
<line x1="380.8" y1="515.08" x2="683.5" y2="515.08" stroke="#f7f7f7" stroke-width="1"/>
<line x1="380.8" y1="491.07" x2="683.5" y2="491.07" stroke="#f7f7f7" stroke-width="1"/>
<line x1="380.8" y1="467.06" x2="683.5" y2="467.06" stroke="#f7f7f7" stroke-width="1"/>
<line x1="380.8" y1="443.05" x2="683.5" y2="443.05" stroke="#f7f7f7" stroke-width="1"/>
<line x1="428.00" y1="442.7" x2="428.00" y2="683.5" stroke="#f7f7f7" stroke-width="1"/>
<line x1="475.50" y1="442.7" x2="475.50" y2="683.5" stroke="#f7f7f7" stroke-width="1"/>
<line x1="523.00" y1="442.7" x2="523.00" y2="683.5" stroke="#f7f7f7" stroke-width="1"/>
<line x1="570.50" y1="442.7" x2="570.50" y2="683.5" stroke="#f7f7f7" stroke-width="1"/>
<line x1="618.00" y1="442.7" x2="618.00" y2="683.5" stroke="#f7f7f7" stroke-width="1"/>
<line x1="665.50" y1="442.7" x2="665.50" y2="683.5" stroke="#f7f7f7" stroke-width="1"/>
<rect x="455.21" y="522.90" width="0.98" height="40.20" fill="#1f77b4"/>
<rect x="457.41" y="514.00" width="0.98" height="49.10" fill="#1f77b4"/>
<rect x="466.91" y="491.80" width="0.98" height="71.30" fill="#1f77b4"/>
<rect x="468.91" y="496.60" width="0.98" height="66.50" fill="#1f77b4"/>
<rect x="470.61" y="498.90" width="0.98" height="64.20" fill="#1f77b4"/>
<rect x="472.01" y="539.80" width="0.98" height="23.30" fill="#1f77b4"/>
<rect x="472.91" y="539.80" width="0.98" height="23.30" fill="#1f77b4"/>
<rect x="474.31" y="544.70" width="0.98" height="18.40" fill="#1f77b4"/>
<rect x="475.11" y="544.70" width="0.98" height="18.40" fill="#1f77b4"/>
<rect x="476.11" y="530.00" width="0.98" height="33.10" fill="#1f77b4"/>
<rect x="477.81" y="539.80" width="0.98" height="23.30" fill="#1f77b4"/>
<rect x="480.21" y="483.00" width="0.98" height="80.10" fill="#1f77b4"/>
<rect x="481.91" y="497.00" width="0.98" height="66.10" fill="#1f77b4"/>
<rect x="483.81" y="502.00" width="0.98" height="61.10" fill="#1f77b4"/>
<rect x="488.81" y="531.10" width="0.98" height="32.00" fill="#1f77b4"/>
<rect x="489.51" y="531.10" width="0.98" height="32.00" fill="#1f77b4"/>
<rect x="491.31" y="493.20" width="0.98" height="69.90" fill="#1f77b4"/>
<rect x="493.21" y="484.30" width="0.98" height="78.80" fill="#1f77b4"/>
<rect x="495.01" y="487.00" width="0.98" height="76.10" fill="#1f77b4"/>
<rect x="496.01" y="487.70" width="0.98" height="75.40" fill="#1f77b4"/>
<rect x="497.01" y="500.00" width="0.98" height="63.10" fill="#1f77b4"/>
<rect x="501.81" y="534.10" width="0.98" height="29.00" fill="#1f77b4"/>
<rect x="502.81" y="491.10" width="0.98" height="72.00" fill="#1f77b4"/>
<rect x="504.91" y="478.90" width="0.98" height="84.20" fill="#1f77b4"/>
<rect x="506.91" y="481.20" width="0.98" height="81.90" fill="#1f77b4"/>
<rect x="508.61" y="489.10" width="0.98" height="74.00" fill="#1f77b4"/>
<rect x="510.91" y="505.70" width="0.98" height="57.40" fill="#1f77b4"/>
<rect x="512.01" y="534.70" width="0.98" height="28.40" fill="#1f77b4"/>
<rect x="513.11" y="534.70" width="0.98" height="28.40" fill="#1f77b4"/>
<rect x="514.11" y="491.50" width="0.98" height="71.60" fill="#1f77b4"/>
<rect x="515.81" y="501.10" width="0.98" height="62.00" fill="#1f77b4"/>
<rect x="518.21" y="478.20" width="0.98" height="84.90" fill="#1f77b4"/>
<rect x="519.91" y="486.10" width="0.98" height="77.00" fill="#1f77b4"/>
<rect x="521.81" y="492.90" width="0.98" height="70.20" fill="#1f77b4"/>
<rect x="524.01" y="521.10" width="0.98" height="42.00" fill="#1f77b4"/>
<rect x="525.91" y="510.90" width="0.98" height="52.20" fill="#1f77b4"/>
<rect x="527.01" y="495.90" width="0.98" height="67.20" fill="#1f77b4"/>
<rect x="527.51" y="495.90" width="0.98" height="67.20" fill="#1f77b4"/>
<rect x="529.91" y="488.00" width="0.98" height="75.10" fill="#1f77b4"/>
<rect x="531.21" y="480.20" width="0.98" height="82.90" fill="#1f77b4"/>
<rect x="533.41" y="478.50" width="0.98" height="84.60" fill="#1f77b4"/>
<rect x="535.31" y="504.10" width="0.98" height="59.00" fill="#1f77b4"/>
<rect x="537.11" y="512.90" width="0.98" height="50.20" fill="#1f77b4"/>
<rect x="538.01" y="536.80" width="0.98" height="26.30" fill="#1f77b4"/>
<rect x="538.91" y="495.90" width="0.98" height="67.20" fill="#1f77b4"/>
<rect x="539.81" y="542.20" width="0.98" height="20.90" fill="#1f77b4"/>
<rect x="540.91" y="479.30" width="0.98" height="83.80" fill="#1f77b4"/>
<rect x="542.91" y="486.10" width="0.98" height="77.00" fill="#1f77b4"/>
<rect x="544.91" y="481.20" width="0.98" height="81.90" fill="#1f77b4"/>
<rect x="546.61" y="477.10" width="0.98" height="86.00" fill="#1f77b4"/>
<rect x="548.91" y="512.00" width="0.98" height="51.10" fill="#1f77b4"/>
<rect x="550.31" y="500.70" width="0.98" height="62.40" fill="#1f77b4"/>
<rect x="552.11" y="504.10" width="0.98" height="59.00" fill="#1f77b4"/>
<rect x="554.41" y="472.00" width="0.98" height="91.10" fill="#1f77b4"/>
<rect x="556.21" y="491.10" width="0.98" height="72.00" fill="#1f77b4"/>
<rect x="557.91" y="474.80" width="0.98" height="88.30" fill="#1f77b4"/>
<rect x="559.81" y="486.10" width="0.98" height="77.00" fill="#1f77b4"/>
<rect x="562.01" y="506.10" width="0.98" height="57.00" fill="#1f77b4"/>
<rect x="563.91" y="497.30" width="0.98" height="65.80" fill="#1f77b4"/>
<rect x="566.01" y="507.10" width="0.98" height="56.00" fill="#1f77b4"/>
<rect x="567.61" y="481.60" width="0.98" height="81.50" fill="#1f77b4"/>
<rect x="569.21" y="503.00" width="0.98" height="60.10" fill="#1f77b4"/>
<rect x="571.01" y="472.50" width="0.98" height="90.60" fill="#1f77b4"/>
<rect x="573.01" y="494.30" width="0.98" height="68.80" fill="#1f77b4"/>
<rect x="575.11" y="493.90" width="0.98" height="69.20" fill="#1f77b4"/>
<rect x="576.91" y="495.90" width="0.98" height="67.20" fill="#1f77b4"/>
<rect x="578.81" y="515.70" width="0.98" height="47.40" fill="#1f77b4"/>
<rect x="580.91" y="495.90" width="0.98" height="67.20" fill="#1f77b4"/>
<rect x="582.91" y="520.20" width="0.98" height="42.90" fill="#1f77b4"/>
<rect x="584.91" y="495.20" width="0.98" height="67.90" fill="#1f77b4"/>
<rect x="586.71" y="521.80" width="0.98" height="41.30" fill="#1f77b4"/>
<rect x="588.41" y="496.20" width="0.98" height="66.90" fill="#1f77b4"/>
<rect x="590.41" y="505.20" width="0.98" height="57.90" fill="#1f77b4"/>
<rect x="593.91" y="522.10" width="0.98" height="41.00" fill="#1f77b4"/>
<rect x="598.01" y="528.90" width="0.98" height="34.20" fill="#1f77b4"/>
<rect x="601.81" y="527.00" width="0.98" height="36.10" fill="#1f77b4"/>
<rect x="607.21" y="533.70" width="0.98" height="29.40" fill="#1f77b4"/>
<rect x="609.51" y="541.10" width="0.98" height="22.00" fill="#1f77b4"/>
<rect x="611.21" y="518.70" width="0.98" height="44.40" fill="#1f77b4"/>
<rect x="615.01" y="538.00" width="0.98" height="25.10" fill="#1f77b4"/>
<rect x="624.51" y="515.90" width="0.98" height="47.20" fill="#1f77b4"/>
<rect x="628.81" y="533.70" width="0.98" height="29.40" fill="#1f77b4"/>
<rect x="633.91" y="488.00" width="0.98" height="75.10" fill="#1f77b4"/>
<rect x="641.71" y="540.00" width="0.98" height="23.10" fill="#1f77b4"/>
<rect x="651.01" y="448.40" width="0.98" height="114.70" fill="#1f77b4"/>
<rect x="666.81" y="528.90" width="0.98" height="34.20" fill="#1f77b4"/>
<rect x="667.81" y="525.10" width="0.98" height="38.00" fill="#1f77b4"/>
<rect x="668.61" y="520.10" width="0.98" height="43.00" fill="#1f77b4"/>
<rect x="403.81" y="563.10" width="0.98" height="0.70" fill="#d62728"/>
<rect x="411.71" y="563.10" width="0.98" height="0.70" fill="#d62728"/>
<rect x="424.81" y="563.10" width="0.98" height="0.70" fill="#d62728"/>
<rect x="432.71" y="563.10" width="0.98" height="0.70" fill="#d62728"/>
<rect x="443.91" y="563.10" width="0.98" height="4.80" fill="#d62728"/>
<rect x="445.91" y="563.10" width="0.98" height="6.40" fill="#d62728"/>
<rect x="447.81" y="563.10" width="0.98" height="4.00" fill="#d62728"/>
<rect x="453.01" y="563.10" width="0.98" height="2.90" fill="#d62728"/>
<rect x="455.51" y="563.10" width="0.98" height="25.30" fill="#d62728"/>
<rect x="456.91" y="563.10" width="0.98" height="38.30" fill="#d62728"/>
<rect x="459.01" y="563.10" width="0.98" height="13.50" fill="#d62728"/>
<rect x="460.51" y="563.10" width="0.98" height="13.90" fill="#d62728"/>
<rect x="466.91" y="563.10" width="0.98" height="41.40" fill="#d62728"/>
<rect x="468.81" y="563.10" width="0.98" height="53.40" fill="#d62728"/>
<rect x="470.51" y="563.10" width="0.98" height="69.50" fill="#d62728"/>
<rect x="472.41" y="563.10" width="0.98" height="34.80" fill="#d62728"/>
<rect x="474.01" y="563.10" width="0.98" height="17.10" fill="#d62728"/>
<rect x="475.51" y="563.10" width="0.98" height="4.50" fill="#d62728"/>
<rect x="477.11" y="563.10" width="0.98" height="5.60" fill="#d62728"/>
<rect x="478.41" y="563.10" width="0.98" height="4.00" fill="#d62728"/>
<rect x="480.31" y="563.10" width="0.98" height="60.80" fill="#d62728"/>
<rect x="481.91" y="563.10" width="0.98" height="71.10" fill="#d62728"/>
<rect x="483.71" y="563.10" width="0.98" height="64.40" fill="#d62728"/>
<rect x="485.81" y="563.10" width="0.98" height="35.60" fill="#d62728"/>
<rect x="487.41" y="563.10" width="0.98" height="11.90" fill="#d62728"/>
<rect x="489.01" y="563.10" width="0.98" height="17.40" fill="#d62728"/>
<rect x="491.41" y="563.10" width="0.98" height="41.40" fill="#d62728"/>
<rect x="493.01" y="563.10" width="0.98" height="78.70" fill="#d62728"/>
<rect x="494.91" y="563.10" width="0.98" height="83.40" fill="#d62728"/>
<rect x="497.01" y="563.10" width="0.98" height="68.70" fill="#d62728"/>
<rect x="499.01" y="563.10" width="0.98" height="40.80" fill="#d62728"/>
<rect x="500.91" y="563.10" width="0.98" height="24.50" fill="#d62728"/>
<rect x="502.81" y="563.10" width="0.98" height="43.00" fill="#d62728"/>
<rect x="504.51" y="563.10" width="0.98" height="58.80" fill="#d62728"/>
<rect x="506.81" y="563.10" width="0.98" height="70.30" fill="#d62728"/>
<rect x="508.51" y="563.10" width="0.98" height="81.30" fill="#d62728"/>
<rect x="510.71" y="563.10" width="0.98" height="53.70" fill="#d62728"/>
<rect x="512.41" y="563.10" width="0.98" height="44.20" fill="#d62728"/>
<rect x="514.31" y="563.10" width="0.98" height="35.60" fill="#d62728"/>
<rect x="516.21" y="563.10" width="0.98" height="52.90" fill="#d62728"/>
<rect x="518.31" y="563.10" width="0.98" height="80.20" fill="#d62728"/>
<rect x="520.21" y="563.10" width="0.98" height="77.70" fill="#d62728"/>
<rect x="521.91" y="563.10" width="0.98" height="79.00" fill="#d62728"/>
<rect x="523.81" y="563.10" width="0.98" height="57.70" fill="#d62728"/>
<rect x="525.81" y="563.10" width="0.98" height="50.60" fill="#d62728"/>
<rect x="527.91" y="563.10" width="0.98" height="47.70" fill="#d62728"/>
<rect x="529.81" y="563.10" width="0.98" height="58.50" fill="#d62728"/>
<rect x="531.51" y="563.10" width="0.98" height="71.40" fill="#d62728"/>
<rect x="533.41" y="563.10" width="0.98" height="75.50" fill="#d62728"/>
<rect x="535.31" y="563.10" width="0.98" height="70.80" fill="#d62728"/>
<rect x="537.01" y="563.10" width="0.98" height="58.80" fill="#d62728"/>
<rect x="538.91" y="563.10" width="0.98" height="56.10" fill="#d62728"/>
<rect x="540.81" y="563.10" width="0.98" height="49.80" fill="#d62728"/>
<rect x="542.91" y="563.10" width="0.98" height="62.40" fill="#d62728"/>
<rect x="544.81" y="563.10" width="0.98" height="77.10" fill="#d62728"/>
<rect x="546.81" y="563.10" width="0.98" height="75.50" fill="#d62728"/>
<rect x="548.91" y="563.10" width="0.98" height="60.80" fill="#d62728"/>
<rect x="550.81" y="563.10" width="0.98" height="44.20" fill="#d62728"/>
<rect x="552.61" y="563.10" width="0.98" height="44.20" fill="#d62728"/>
<rect x="554.51" y="563.10" width="0.98" height="48.70" fill="#d62728"/>
<rect x="556.41" y="563.10" width="0.98" height="72.30" fill="#d62728"/>
<rect x="558.21" y="563.10" width="0.98" height="66.70" fill="#d62728"/>
<rect x="559.91" y="563.10" width="0.98" height="79.80" fill="#d62728"/>
<rect x="561.81" y="563.10" width="0.98" height="66.30" fill="#d62728"/>
<rect x="563.91" y="563.10" width="0.98" height="48.20" fill="#d62728"/>
<rect x="565.91" y="563.10" width="0.98" height="41.10" fill="#d62728"/>
<rect x="567.81" y="563.10" width="0.98" height="52.90" fill="#d62728"/>
<rect x="569.51" y="563.10" width="0.98" height="61.60" fill="#d62728"/>
<rect x="571.41" y="563.10" width="0.98" height="60.80" fill="#d62728"/>
<rect x="573.31" y="563.10" width="0.98" height="66.00" fill="#d62728"/>
<rect x="575.01" y="563.10" width="0.98" height="58.50" fill="#d62728"/>
<rect x="576.91" y="563.10" width="0.98" height="57.70" fill="#d62728"/>
<rect x="578.81" y="563.10" width="0.98" height="49.80" fill="#d62728"/>
<rect x="580.91" y="563.10" width="0.98" height="39.20" fill="#d62728"/>
<rect x="582.81" y="563.10" width="0.98" height="47.40" fill="#d62728"/>
<rect x="584.81" y="563.10" width="0.98" height="48.20" fill="#d62728"/>
<rect x="586.71" y="563.10" width="0.98" height="43.90" fill="#d62728"/>
<rect x="588.41" y="563.10" width="0.98" height="53.40" fill="#d62728"/>
<rect x="590.31" y="563.10" width="0.98" height="47.40" fill="#d62728"/>
<rect x="592.41" y="563.10" width="0.98" height="33.20" fill="#d62728"/>
<rect x="594.31" y="563.10" width="0.98" height="32.90" fill="#d62728"/>
<rect x="596.21" y="563.10" width="0.98" height="31.30" fill="#d62728"/>
<rect x="598.21" y="563.10" width="0.98" height="25.30" fill="#d62728"/>
<rect x="600.11" y="563.10" width="0.98" height="34.50" fill="#d62728"/>
<rect x="601.81" y="563.10" width="0.98" height="35.60" fill="#d62728"/>
<rect x="603.81" y="563.10" width="0.98" height="29.40" fill="#d62728"/>
<rect x="605.51" y="563.10" width="0.98" height="32.70" fill="#d62728"/>
<rect x="607.21" y="563.10" width="0.98" height="27.40" fill="#d62728"/>
<rect x="608.41" y="563.10" width="0.98" height="2.30" fill="#d62728"/>
<rect x="609.71" y="563.10" width="0.98" height="24.40" fill="#d62728"/>
<rect x="611.31" y="563.10" width="0.98" height="19.10" fill="#d62728"/>
<rect x="612.91" y="563.10" width="0.98" height="21.60" fill="#d62728"/>
<rect x="615.01" y="563.10" width="0.98" height="29.60" fill="#d62728"/>
<rect x="616.21" y="563.10" width="0.98" height="7.30" fill="#d62728"/>
<rect x="617.51" y="563.10" width="0.98" height="16.60" fill="#d62728"/>
<rect x="619.11" y="563.10" width="0.98" height="15.70" fill="#d62728"/>
<rect x="620.31" y="563.10" width="0.98" height="15.00" fill="#d62728"/>
<rect x="621.81" y="563.10" width="0.98" height="14.80" fill="#d62728"/>
<rect x="623.31" y="563.10" width="0.98" height="16.60" fill="#d62728"/>
<rect x="624.91" y="563.10" width="0.98" height="31.50" fill="#d62728"/>
<rect x="626.51" y="563.10" width="0.98" height="8.50" fill="#d62728"/>
<rect x="628.31" y="563.10" width="0.98" height="12.90" fill="#d62728"/>
<rect x="630.31" y="563.10" width="0.98" height="17.50" fill="#d62728"/>
<rect x="632.01" y="563.10" width="0.98" height="22.20" fill="#d62728"/>
<rect x="633.61" y="563.10" width="0.98" height="18.50" fill="#d62728"/>
<rect x="635.51" y="563.10" width="0.98" height="11.00" fill="#d62728"/>
<rect x="637.31" y="563.10" width="0.98" height="15.40" fill="#d62728"/>
<rect x="639.01" y="563.10" width="0.98" height="9.80" fill="#d62728"/>
<rect x="640.41" y="563.10" width="0.98" height="12.30" fill="#d62728"/>
<rect x="641.91" y="563.10" width="0.98" height="24.70" fill="#d62728"/>
<rect x="643.51" y="563.10" width="0.98" height="11.00" fill="#d62728"/>
<rect x="645.41" y="563.10" width="0.98" height="13.50" fill="#d62728"/>
<rect x="647.31" y="563.10" width="0.98" height="10.40" fill="#d62728"/>
<rect x="648.91" y="563.10" width="0.98" height="15.40" fill="#d62728"/>
<rect x="650.41" y="563.10" width="0.98" height="14.80" fill="#d62728"/>
<rect x="651.61" y="563.10" width="0.98" height="4.20" fill="#d62728"/>
<rect x="653.51" y="563.10" width="0.98" height="6.10" fill="#d62728"/>
<rect x="655.11" y="563.10" width="0.98" height="10.40" fill="#d62728"/>
<rect x="656.81" y="563.10" width="0.98" height="6.70" fill="#d62728"/>
<rect x="659.11" y="563.10" width="0.98" height="8.30" fill="#d62728"/>
<rect x="660.91" y="563.10" width="0.98" height="4.60" fill="#d62728"/>
<rect x="662.81" y="563.10" width="0.98" height="6.70" fill="#d62728"/>
<rect x="664.01" y="563.10" width="0.98" height="4.20" fill="#d62728"/>
<rect x="666.51" y="563.10" width="0.98" height="9.20" fill="#d62728"/>
<rect x="668.41" y="563.10" width="0.98" height="6.10" fill="#d62728"/>
<rect x="670.21" y="563.10" width="0.98" height="8.30" fill="#d62728"/>
<rect x="672.11" y="563.10" width="0.98" height="3.80" fill="#d62728"/>
<rect x="673.91" y="563.10" width="0.98" height="2.30" fill="#d62728"/>
<rect x="676.41" y="563.10" width="0.98" height="2.30" fill="#d62728"/>
<rect x="678.91" y="563.10" width="0.98" height="1.70" fill="#d62728"/>
<rect x="681.41" y="563.10" width="0.98" height="1.30" fill="#d62728"/>
<rect x="452.00" y="563.10" width="220.00" height="1.60" fill="#d62728" fill-opacity="0.85"/>
<rect x="451.70" y="563.10" width="0.6" height="4.10" fill="#d62728" fill-opacity="0.7"/>
<rect x="452.65" y="563.10" width="0.6" height="4.10" fill="#d62728" fill-opacity="0.7"/>
<rect x="453.60" y="563.10" width="0.6" height="4.10" fill="#d62728" fill-opacity="0.7"/>
<rect x="454.55" y="563.10" width="0.6" height="2.10" fill="#d62728" fill-opacity="0.7"/>
<rect x="455.50" y="563.10" width="0.6" height="1.60" fill="#d62728" fill-opacity="0.7"/>
<rect x="456.45" y="563.10" width="0.6" height="4.10" fill="#d62728" fill-opacity="0.7"/>
<rect x="457.40" y="563.10" width="0.6" height="1.60" fill="#d62728" fill-opacity="0.7"/>
<rect x="458.35" y="563.10" width="0.6" height="1.60" fill="#d62728" fill-opacity="0.7"/>
<rect x="459.30" y="563.10" width="0.6" height="4.10" fill="#d62728" fill-opacity="0.7"/>
<rect x="460.25" y="563.10" width="0.6" height="2.60" fill="#d62728" fill-opacity="0.7"/>
<rect x="461.20" y="563.10" width="0.6" height="1.60" fill="#d62728" fill-opacity="0.7"/>
<rect x="462.15" y="563.10" width="0.6" height="1.60" fill="#d62728" fill-opacity="0.7"/>
<rect x="463.10" y="563.10" width="0.6" height="1.60" fill="#d62728" fill-opacity="0.7"/>
<rect x="464.05" y="563.10" width="0.6" height="3.60" fill="#d62728" fill-opacity="0.7"/>
<rect x="465.00" y="563.10" width="0.6" height="4.10" fill="#d62728" fill-opacity="0.7"/>
<rect x="465.95" y="563.10" width="0.6" height="1.60" fill="#d62728" fill-opacity="0.7"/>
<rect x="466.90" y="563.10" width="0.6" height="1.60" fill="#d62728" fill-opacity="0.7"/>
<rect x="467.85" y="563.10" width="0.6" height="1.60" fill="#d62728" fill-opacity="0.7"/>
<rect x="468.80" y="563.10" width="0.6" height="1.60" fill="#d62728" fill-opacity="0.7"/>
<rect x="469.75" y="563.10" width="0.6" height="1.60" fill="#d62728" fill-opacity="0.7"/>
<rect x="470.70" y="563.10" width="0.6" height="2.10" fill="#d62728" fill-opacity="0.7"/>
<rect x="471.65" y="563.10" width="0.6" height="2.10" fill="#d62728" fill-opacity="0.7"/>
<rect x="472.60" y="563.10" width="0.6" height="1.60" fill="#d62728" fill-opacity="0.7"/>
<rect x="473.55" y="563.10" width="0.6" height="4.10" fill="#d62728" fill-opacity="0.7"/>
<rect x="474.50" y="563.10" width="0.6" height="3.10" fill="#d62728" fill-opacity="0.7"/>
<rect x="475.45" y="563.10" width="0.6" height="4.10" fill="#d62728" fill-opacity="0.7"/>
<rect x="476.40" y="563.10" width="0.6" height="2.10" fill="#d62728" fill-opacity="0.7"/>
<rect x="477.35" y="563.10" width="0.6" height="2.10" fill="#d62728" fill-opacity="0.7"/>
<rect x="478.30" y="563.10" width="0.6" height="2.60" fill="#d62728" fill-opacity="0.7"/>
<rect x="479.25" y="563.10" width="0.6" height="4.10" fill="#d62728" fill-opacity="0.7"/>
<rect x="480.20" y="563.10" width="0.6" height="1.60" fill="#d62728" fill-opacity="0.7"/>
<rect x="481.15" y="563.10" width="0.6" height="1.60" fill="#d62728" fill-opacity="0.7"/>
<rect x="482.10" y="563.10" width="0.6" height="4.10" fill="#d62728" fill-opacity="0.7"/>
<rect x="483.05" y="563.10" width="0.6" height="2.60" fill="#d62728" fill-opacity="0.7"/>
<rect x="484.00" y="563.10" width="0.6" height="3.60" fill="#d62728" fill-opacity="0.7"/>
<rect x="484.95" y="563.10" width="0.6" height="1.60" fill="#d62728" fill-opacity="0.7"/>
<rect x="485.90" y="563.10" width="0.6" height="2.60" fill="#d62728" fill-opacity="0.7"/>
<rect x="486.85" y="563.10" width="0.6" height="3.10" fill="#d62728" fill-opacity="0.7"/>
<rect x="487.80" y="563.10" width="0.6" height="2.10" fill="#d62728" fill-opacity="0.7"/>
<rect x="488.75" y="563.10" width="0.6" height="2.60" fill="#d62728" fill-opacity="0.7"/>
<rect x="489.70" y="563.10" width="0.6" height="1.60" fill="#d62728" fill-opacity="0.7"/>
<rect x="490.65" y="563.10" width="0.6" height="1.60" fill="#d62728" fill-opacity="0.7"/>
<rect x="491.60" y="563.10" width="0.6" height="1.60" fill="#d62728" fill-opacity="0.7"/>
<rect x="492.55" y="563.10" width="0.6" height="3.60" fill="#d62728" fill-opacity="0.7"/>
<rect x="493.50" y="563.10" width="0.6" height="1.60" fill="#d62728" fill-opacity="0.7"/>
<rect x="494.45" y="563.10" width="0.6" height="2.60" fill="#d62728" fill-opacity="0.7"/>
<rect x="495.40" y="563.10" width="0.6" height="3.60" fill="#d62728" fill-opacity="0.7"/>
<rect x="496.35" y="563.10" width="0.6" height="1.60" fill="#d62728" fill-opacity="0.7"/>
<rect x="497.30" y="563.10" width="0.6" height="1.60" fill="#d62728" fill-opacity="0.7"/>
<rect x="498.25" y="563.10" width="0.6" height="1.60" fill="#d62728" fill-opacity="0.7"/>
<rect x="499.20" y="563.10" width="0.6" height="2.10" fill="#d62728" fill-opacity="0.7"/>
<rect x="500.15" y="563.10" width="0.6" height="2.10" fill="#d62728" fill-opacity="0.7"/>
<rect x="501.10" y="563.10" width="0.6" height="1.60" fill="#d62728" fill-opacity="0.7"/>
<rect x="502.05" y="563.10" width="0.6" height="4.10" fill="#d62728" fill-opacity="0.7"/>
<rect x="503.00" y="563.10" width="0.6" height="3.60" fill="#d62728" fill-opacity="0.7"/>
<rect x="503.95" y="563.10" width="0.6" height="3.60" fill="#d62728" fill-opacity="0.7"/>
<rect x="504.90" y="563.10" width="0.6" height="3.60" fill="#d62728" fill-opacity="0.7"/>
<rect x="505.85" y="563.10" width="0.6" height="1.60" fill="#d62728" fill-opacity="0.7"/>
<rect x="506.80" y="563.10" width="0.6" height="2.10" fill="#d62728" fill-opacity="0.7"/>
<rect x="507.75" y="563.10" width="0.6" height="2.60" fill="#d62728" fill-opacity="0.7"/>
<rect x="508.70" y="563.10" width="0.6" height="3.10" fill="#d62728" fill-opacity="0.7"/>
<rect x="509.65" y="563.10" width="0.6" height="1.60" fill="#d62728" fill-opacity="0.7"/>
<rect x="510.60" y="563.10" width="0.6" height="2.60" fill="#d62728" fill-opacity="0.7"/>
<rect x="511.55" y="563.10" width="0.6" height="3.10" fill="#d62728" fill-opacity="0.7"/>
<rect x="512.50" y="563.10" width="0.6" height="1.60" fill="#d62728" fill-opacity="0.7"/>
<rect x="513.45" y="563.10" width="0.6" height="3.60" fill="#d62728" fill-opacity="0.7"/>
<rect x="514.40" y="563.10" width="0.6" height="1.60" fill="#d62728" fill-opacity="0.7"/>
<rect x="515.35" y="563.10" width="0.6" height="1.60" fill="#d62728" fill-opacity="0.7"/>
<rect x="516.30" y="563.10" width="0.6" height="2.10" fill="#d62728" fill-opacity="0.7"/>
<rect x="517.25" y="563.10" width="0.6" height="1.60" fill="#d62728" fill-opacity="0.7"/>
<rect x="518.20" y="563.10" width="0.6" height="1.60" fill="#d62728" fill-opacity="0.7"/>
<rect x="519.15" y="563.10" width="0.6" height="1.60" fill="#d62728" fill-opacity="0.7"/>
<rect x="520.10" y="563.10" width="0.6" height="4.10" fill="#d62728" fill-opacity="0.7"/>
<rect x="521.05" y="563.10" width="0.6" height="4.10" fill="#d62728" fill-opacity="0.7"/>
<rect x="522.00" y="563.10" width="0.6" height="1.60" fill="#d62728" fill-opacity="0.7"/>
<rect x="522.95" y="563.10" width="0.6" height="2.10" fill="#d62728" fill-opacity="0.7"/>
<rect x="523.90" y="563.10" width="0.6" height="4.10" fill="#d62728" fill-opacity="0.7"/>
<rect x="524.85" y="563.10" width="0.6" height="2.10" fill="#d62728" fill-opacity="0.7"/>
<rect x="525.80" y="563.10" width="0.6" height="1.60" fill="#d62728" fill-opacity="0.7"/>
<rect x="526.75" y="563.10" width="0.6" height="3.60" fill="#d62728" fill-opacity="0.7"/>
<rect x="527.70" y="563.10" width="0.6" height="3.60" fill="#d62728" fill-opacity="0.7"/>
<rect x="528.65" y="563.10" width="0.6" height="1.60" fill="#d62728" fill-opacity="0.7"/>
<rect x="529.60" y="563.10" width="0.6" height="3.60" fill="#d62728" fill-opacity="0.7"/>
<rect x="530.55" y="563.10" width="0.6" height="3.60" fill="#d62728" fill-opacity="0.7"/>
<rect x="531.50" y="563.10" width="0.6" height="2.10" fill="#d62728" fill-opacity="0.7"/>
<rect x="532.45" y="563.10" width="0.6" height="1.60" fill="#d62728" fill-opacity="0.7"/>
<rect x="533.40" y="563.10" width="0.6" height="2.60" fill="#d62728" fill-opacity="0.7"/>
<rect x="534.35" y="563.10" width="0.6" height="2.60" fill="#d62728" fill-opacity="0.7"/>
<rect x="535.30" y="563.10" width="0.6" height="1.60" fill="#d62728" fill-opacity="0.7"/>
<rect x="536.25" y="563.10" width="0.6" height="2.10" fill="#d62728" fill-opacity="0.7"/>
<rect x="537.20" y="563.10" width="0.6" height="1.60" fill="#d62728" fill-opacity="0.7"/>
<rect x="538.15" y="563.10" width="0.6" height="3.60" fill="#d62728" fill-opacity="0.7"/>
<rect x="539.10" y="563.10" width="0.6" height="1.60" fill="#d62728" fill-opacity="0.7"/>
<rect x="540.05" y="563.10" width="0.6" height="1.60" fill="#d62728" fill-opacity="0.7"/>
<rect x="541.00" y="563.10" width="0.6" height="1.60" fill="#d62728" fill-opacity="0.7"/>
<rect x="541.95" y="563.10" width="0.6" height="2.10" fill="#d62728" fill-opacity="0.7"/>
<rect x="542.90" y="563.10" width="0.6" height="4.10" fill="#d62728" fill-opacity="0.7"/>
<rect x="543.85" y="563.10" width="0.6" height="2.60" fill="#d62728" fill-opacity="0.7"/>
<rect x="544.80" y="563.10" width="0.6" height="1.60" fill="#d62728" fill-opacity="0.7"/>
<rect x="545.75" y="563.10" width="0.6" height="3.10" fill="#d62728" fill-opacity="0.7"/>
<rect x="546.70" y="563.10" width="0.6" height="2.60" fill="#d62728" fill-opacity="0.7"/>
<rect x="547.65" y="563.10" width="0.6" height="3.60" fill="#d62728" fill-opacity="0.7"/>
<rect x="548.60" y="563.10" width="0.6" height="1.60" fill="#d62728" fill-opacity="0.7"/>
<rect x="549.55" y="563.10" width="0.6" height="1.60" fill="#d62728" fill-opacity="0.7"/>
<rect x="550.50" y="563.10" width="0.6" height="1.60" fill="#d62728" fill-opacity="0.7"/>
<rect x="551.45" y="563.10" width="0.6" height="2.10" fill="#d62728" fill-opacity="0.7"/>
<rect x="552.40" y="563.10" width="0.6" height="2.10" fill="#d62728" fill-opacity="0.7"/>
<rect x="553.35" y="563.10" width="0.6" height="1.60" fill="#d62728" fill-opacity="0.7"/>
<rect x="554.30" y="563.10" width="0.6" height="3.10" fill="#d62728" fill-opacity="0.7"/>
<rect x="555.25" y="563.10" width="0.6" height="3.10" fill="#d62728" fill-opacity="0.7"/>
<rect x="556.20" y="563.10" width="0.6" height="4.10" fill="#d62728" fill-opacity="0.7"/>
<rect x="557.15" y="563.10" width="0.6" height="1.60" fill="#d62728" fill-opacity="0.7"/>
<rect x="558.10" y="563.10" width="0.6" height="4.10" fill="#d62728" fill-opacity="0.7"/>
<rect x="559.05" y="563.10" width="0.6" height="1.60" fill="#d62728" fill-opacity="0.7"/>
<rect x="560.00" y="563.10" width="0.6" height="3.60" fill="#d62728" fill-opacity="0.7"/>
<rect x="560.95" y="563.10" width="0.6" height="1.60" fill="#d62728" fill-opacity="0.7"/>
<rect x="561.90" y="563.10" width="0.6" height="1.60" fill="#d62728" fill-opacity="0.7"/>
<rect x="562.85" y="563.10" width="0.6" height="2.60" fill="#d62728" fill-opacity="0.7"/>
<rect x="563.80" y="563.10" width="0.6" height="2.10" fill="#d62728" fill-opacity="0.7"/>
<rect x="564.75" y="563.10" width="0.6" height="2.10" fill="#d62728" fill-opacity="0.7"/>
<rect x="565.70" y="563.10" width="0.6" height="2.10" fill="#d62728" fill-opacity="0.7"/>
<rect x="566.65" y="563.10" width="0.6" height="1.60" fill="#d62728" fill-opacity="0.7"/>
<rect x="567.60" y="563.10" width="0.6" height="2.10" fill="#d62728" fill-opacity="0.7"/>
<rect x="568.55" y="563.10" width="0.6" height="3.60" fill="#d62728" fill-opacity="0.7"/>
<rect x="569.50" y="563.10" width="0.6" height="4.10" fill="#d62728" fill-opacity="0.7"/>
<rect x="570.45" y="563.10" width="0.6" height="1.60" fill="#d62728" fill-opacity="0.7"/>
<rect x="571.40" y="563.10" width="0.6" height="3.60" fill="#d62728" fill-opacity="0.7"/>
<rect x="572.35" y="563.10" width="0.6" height="1.60" fill="#d62728" fill-opacity="0.7"/>
<rect x="573.30" y="563.10" width="0.6" height="1.60" fill="#d62728" fill-opacity="0.7"/>
<rect x="574.25" y="563.10" width="0.6" height="1.60" fill="#d62728" fill-opacity="0.7"/>
<rect x="575.20" y="563.10" width="0.6" height="1.60" fill="#d62728" fill-opacity="0.7"/>
<rect x="576.15" y="563.10" width="0.6" height="2.60" fill="#d62728" fill-opacity="0.7"/>
<rect x="577.10" y="563.10" width="0.6" height="2.10" fill="#d62728" fill-opacity="0.7"/>
<rect x="578.05" y="563.10" width="0.6" height="3.60" fill="#d62728" fill-opacity="0.7"/>
<rect x="579.00" y="563.10" width="0.6" height="2.60" fill="#d62728" fill-opacity="0.7"/>
<rect x="579.95" y="563.10" width="0.6" height="3.60" fill="#d62728" fill-opacity="0.7"/>
<rect x="580.90" y="563.10" width="0.6" height="4.10" fill="#d62728" fill-opacity="0.7"/>
<rect x="581.85" y="563.10" width="0.6" height="2.60" fill="#d62728" fill-opacity="0.7"/>
<rect x="582.80" y="563.10" width="0.6" height="1.60" fill="#d62728" fill-opacity="0.7"/>
<rect x="583.75" y="563.10" width="0.6" height="1.60" fill="#d62728" fill-opacity="0.7"/>
<rect x="584.70" y="563.10" width="0.6" height="1.60" fill="#d62728" fill-opacity="0.7"/>
<rect x="585.65" y="563.10" width="0.6" height="2.10" fill="#d62728" fill-opacity="0.7"/>
<rect x="586.60" y="563.10" width="0.6" height="4.10" fill="#d62728" fill-opacity="0.7"/>
<rect x="587.55" y="563.10" width="0.6" height="1.60" fill="#d62728" fill-opacity="0.7"/>
<rect x="588.50" y="563.10" width="0.6" height="2.60" fill="#d62728" fill-opacity="0.7"/>
<rect x="589.45" y="563.10" width="0.6" height="2.10" fill="#d62728" fill-opacity="0.7"/>
<rect x="590.40" y="563.10" width="0.6" height="2.10" fill="#d62728" fill-opacity="0.7"/>
<rect x="591.35" y="563.10" width="0.6" height="1.60" fill="#d62728" fill-opacity="0.7"/>
<rect x="592.30" y="563.10" width="0.6" height="1.60" fill="#d62728" fill-opacity="0.7"/>
<rect x="593.25" y="563.10" width="0.6" height="2.60" fill="#d62728" fill-opacity="0.7"/>
<rect x="594.20" y="563.10" width="0.6" height="3.60" fill="#d62728" fill-opacity="0.7"/>
<rect x="595.15" y="563.10" width="0.6" height="4.10" fill="#d62728" fill-opacity="0.7"/>
<rect x="596.10" y="563.10" width="0.6" height="2.10" fill="#d62728" fill-opacity="0.7"/>
<rect x="597.05" y="563.10" width="0.6" height="1.60" fill="#d62728" fill-opacity="0.7"/>
<rect x="598.00" y="563.10" width="0.6" height="1.60" fill="#d62728" fill-opacity="0.7"/>
<rect x="598.95" y="563.10" width="0.6" height="1.60" fill="#d62728" fill-opacity="0.7"/>
<rect x="599.90" y="563.10" width="0.6" height="2.60" fill="#d62728" fill-opacity="0.7"/>
<rect x="600.85" y="563.10" width="0.6" height="3.10" fill="#d62728" fill-opacity="0.7"/>
<rect x="601.80" y="563.10" width="0.6" height="1.60" fill="#d62728" fill-opacity="0.7"/>
<rect x="602.75" y="563.10" width="0.6" height="1.60" fill="#d62728" fill-opacity="0.7"/>
<rect x="603.70" y="563.10" width="0.6" height="3.10" fill="#d62728" fill-opacity="0.7"/>
<rect x="604.65" y="563.10" width="0.6" height="1.60" fill="#d62728" fill-opacity="0.7"/>
<rect x="605.60" y="563.10" width="0.6" height="4.10" fill="#d62728" fill-opacity="0.7"/>
<rect x="606.55" y="563.10" width="0.6" height="3.10" fill="#d62728" fill-opacity="0.7"/>
<rect x="607.50" y="563.10" width="0.6" height="1.60" fill="#d62728" fill-opacity="0.7"/>
<rect x="608.45" y="563.10" width="0.6" height="1.60" fill="#d62728" fill-opacity="0.7"/>
<rect x="609.40" y="563.10" width="0.6" height="1.60" fill="#d62728" fill-opacity="0.7"/>
<rect x="610.35" y="563.10" width="0.6" height="4.10" fill="#d62728" fill-opacity="0.7"/>
<rect x="611.30" y="563.10" width="0.6" height="3.10" fill="#d62728" fill-opacity="0.7"/>
<rect x="612.25" y="563.10" width="0.6" height="2.60" fill="#d62728" fill-opacity="0.7"/>
<rect x="613.20" y="563.10" width="0.6" height="1.60" fill="#d62728" fill-opacity="0.7"/>
<rect x="614.15" y="563.10" width="0.6" height="1.60" fill="#d62728" fill-opacity="0.7"/>
<rect x="615.10" y="563.10" width="0.6" height="1.60" fill="#d62728" fill-opacity="0.7"/>
<rect x="616.05" y="563.10" width="0.6" height="4.10" fill="#d62728" fill-opacity="0.7"/>
<rect x="617.00" y="563.10" width="0.6" height="1.60" fill="#d62728" fill-opacity="0.7"/>
<rect x="617.95" y="563.10" width="0.6" height="2.60" fill="#d62728" fill-opacity="0.7"/>
<rect x="618.90" y="563.10" width="0.6" height="3.10" fill="#d62728" fill-opacity="0.7"/>
<rect x="619.85" y="563.10" width="0.6" height="1.60" fill="#d62728" fill-opacity="0.7"/>
<rect x="620.80" y="563.10" width="0.6" height="1.60" fill="#d62728" fill-opacity="0.7"/>
<rect x="621.75" y="563.10" width="0.6" height="1.60" fill="#d62728" fill-opacity="0.7"/>
<rect x="622.70" y="563.10" width="0.6" height="4.10" fill="#d62728" fill-opacity="0.7"/>
<rect x="623.65" y="563.10" width="0.6" height="3.10" fill="#d62728" fill-opacity="0.7"/>
<rect x="624.60" y="563.10" width="0.6" height="1.60" fill="#d62728" fill-opacity="0.7"/>
<rect x="625.55" y="563.10" width="0.6" height="1.60" fill="#d62728" fill-opacity="0.7"/>
<rect x="626.50" y="563.10" width="0.6" height="3.10" fill="#d62728" fill-opacity="0.7"/>
<rect x="627.45" y="563.10" width="0.6" height="3.10" fill="#d62728" fill-opacity="0.7"/>
<rect x="628.40" y="563.10" width="0.6" height="1.60" fill="#d62728" fill-opacity="0.7"/>
<rect x="629.35" y="563.10" width="0.6" height="4.10" fill="#d62728" fill-opacity="0.7"/>
<rect x="630.30" y="563.10" width="0.6" height="1.60" fill="#d62728" fill-opacity="0.7"/>
<rect x="631.25" y="563.10" width="0.6" height="3.60" fill="#d62728" fill-opacity="0.7"/>
<rect x="632.20" y="563.10" width="0.6" height="1.60" fill="#d62728" fill-opacity="0.7"/>
<rect x="633.15" y="563.10" width="0.6" height="4.10" fill="#d62728" fill-opacity="0.7"/>
<rect x="634.10" y="563.10" width="0.6" height="1.60" fill="#d62728" fill-opacity="0.7"/>
<rect x="635.05" y="563.10" width="0.6" height="3.60" fill="#d62728" fill-opacity="0.7"/>
<rect x="636.00" y="563.10" width="0.6" height="3.60" fill="#d62728" fill-opacity="0.7"/>
<rect x="636.95" y="563.10" width="0.6" height="1.60" fill="#d62728" fill-opacity="0.7"/>
<rect x="637.90" y="563.10" width="0.6" height="1.60" fill="#d62728" fill-opacity="0.7"/>
<rect x="638.85" y="563.10" width="0.6" height="1.60" fill="#d62728" fill-opacity="0.7"/>
<rect x="639.80" y="563.10" width="0.6" height="1.60" fill="#d62728" fill-opacity="0.7"/>
<rect x="640.75" y="563.10" width="0.6" height="1.60" fill="#d62728" fill-opacity="0.7"/>
<rect x="641.70" y="563.10" width="0.6" height="2.60" fill="#d62728" fill-opacity="0.7"/>
<rect x="642.65" y="563.10" width="0.6" height="3.60" fill="#d62728" fill-opacity="0.7"/>
<rect x="643.60" y="563.10" width="0.6" height="3.10" fill="#d62728" fill-opacity="0.7"/>
<rect x="644.55" y="563.10" width="0.6" height="3.60" fill="#d62728" fill-opacity="0.7"/>
<rect x="645.50" y="563.10" width="0.6" height="4.10" fill="#d62728" fill-opacity="0.7"/>
<rect x="646.45" y="563.10" width="0.6" height="4.10" fill="#d62728" fill-opacity="0.7"/>
<rect x="647.40" y="563.10" width="0.6" height="4.10" fill="#d62728" fill-opacity="0.7"/>
<rect x="648.35" y="563.10" width="0.6" height="1.60" fill="#d62728" fill-opacity="0.7"/>
<rect x="649.30" y="563.10" width="0.6" height="1.60" fill="#d62728" fill-opacity="0.7"/>
<rect x="650.25" y="563.10" width="0.6" height="2.60" fill="#d62728" fill-opacity="0.7"/>
<rect x="651.20" y="563.10" width="0.6" height="1.60" fill="#d62728" fill-opacity="0.7"/>
<rect x="652.15" y="563.10" width="0.6" height="4.10" fill="#d62728" fill-opacity="0.7"/>
<rect x="653.10" y="563.10" width="0.6" height="1.60" fill="#d62728" fill-opacity="0.7"/>
<rect x="654.05" y="563.10" width="0.6" height="2.10" fill="#d62728" fill-opacity="0.7"/>
<rect x="655.00" y="563.10" width="0.6" height="1.60" fill="#d62728" fill-opacity="0.7"/>
<rect x="655.95" y="563.10" width="0.6" height="4.10" fill="#d62728" fill-opacity="0.7"/>
<rect x="656.90" y="563.10" width="0.6" height="4.10" fill="#d62728" fill-opacity="0.7"/>
<rect x="657.85" y="563.10" width="0.6" height="2.60" fill="#d62728" fill-opacity="0.7"/>
<rect x="658.80" y="563.10" width="0.6" height="1.60" fill="#d62728" fill-opacity="0.7"/>
<rect x="659.75" y="563.10" width="0.6" height="3.10" fill="#d62728" fill-opacity="0.7"/>
<rect x="660.70" y="563.10" width="0.6" height="2.60" fill="#d62728" fill-opacity="0.7"/>
<rect x="661.65" y="563.10" width="0.6" height="1.60" fill="#d62728" fill-opacity="0.7"/>
<rect x="662.60" y="563.10" width="0.6" height="2.10" fill="#d62728" fill-opacity="0.7"/>
<rect x="663.55" y="563.10" width="0.6" height="1.60" fill="#d62728" fill-opacity="0.7"/>
<rect x="664.50" y="563.10" width="0.6" height="3.10" fill="#d62728" fill-opacity="0.7"/>
<rect x="665.45" y="563.10" width="0.6" height="4.10" fill="#d62728" fill-opacity="0.7"/>
<rect x="666.40" y="563.10" width="0.6" height="4.10" fill="#d62728" fill-opacity="0.7"/>
<rect x="667.35" y="563.10" width="0.6" height="2.10" fill="#d62728" fill-opacity="0.7"/>
<rect x="668.30" y="563.10" width="0.6" height="3.10" fill="#d62728" fill-opacity="0.7"/>
<rect x="669.25" y="563.10" width="0.6" height="3.60" fill="#d62728" fill-opacity="0.7"/>
<rect x="670.20" y="563.10" width="0.6" height="2.60" fill="#d62728" fill-opacity="0.7"/>
<rect x="671.15" y="563.10" width="0.6" height="2.10" fill="#d62728" fill-opacity="0.7"/>
<line x1="380.8" y1="563.1" x2="683.5" y2="563.1" stroke="#c4acac" stroke-width="0.8"/>
<rect x="380.8" y="442.7" width="302.70" height="240.80" fill="none" stroke="#cbcbcb" stroke-width="1"/>
<line x1="379.20" y1="683.15" x2="380.80" y2="683.15" stroke="#c4c4c4" stroke-width="0.5"/>
<line x1="379.20" y1="659.14" x2="380.80" y2="659.14" stroke="#c4c4c4" stroke-width="0.5"/>
<line x1="379.20" y1="635.13" x2="380.80" y2="635.13" stroke="#c4c4c4" stroke-width="0.5"/>
<line x1="379.20" y1="611.12" x2="380.80" y2="611.12" stroke="#c4c4c4" stroke-width="0.5"/>
<line x1="379.20" y1="587.11" x2="380.80" y2="587.11" stroke="#c4c4c4" stroke-width="0.5"/>
<line x1="379.20" y1="563.10" x2="380.80" y2="563.10" stroke="#c4c4c4" stroke-width="0.5"/>
<line x1="379.20" y1="539.09" x2="380.80" y2="539.09" stroke="#c4c4c4" stroke-width="0.5"/>
<line x1="379.20" y1="515.08" x2="380.80" y2="515.08" stroke="#c4c4c4" stroke-width="0.5"/>
<line x1="379.20" y1="491.07" x2="380.80" y2="491.07" stroke="#c4c4c4" stroke-width="0.5"/>
<line x1="379.20" y1="467.06" x2="380.80" y2="467.06" stroke="#c4c4c4" stroke-width="0.5"/>
<line x1="379.20" y1="443.05" x2="380.80" y2="443.05" stroke="#c4c4c4" stroke-width="0.5"/>
<line x1="380.50" y1="683.50" x2="380.50" y2="684.90" stroke="#c4c4c4" stroke-width="0.5"/>
<line x1="428.00" y1="683.50" x2="428.00" y2="684.90" stroke="#c4c4c4" stroke-width="0.5"/>
<line x1="475.50" y1="683.50" x2="475.50" y2="684.90" stroke="#c4c4c4" stroke-width="0.5"/>
<line x1="523.00" y1="683.50" x2="523.00" y2="684.90" stroke="#c4c4c4" stroke-width="0.5"/>
<line x1="570.50" y1="683.50" x2="570.50" y2="684.90" stroke="#c4c4c4" stroke-width="0.5"/>
<line x1="618.00" y1="683.50" x2="618.00" y2="684.90" stroke="#c4c4c4" stroke-width="0.5"/>
<line x1="665.50" y1="683.50" x2="665.50" y2="684.90" stroke="#c4c4c4" stroke-width="0.5"/>
<text x="379.10" y="684.70" font-size="3.7" text-anchor="end" fill="#111" stroke="#111" stroke-width="0.08">0.025</text>
<text x="379.10" y="660.69" font-size="3.7" text-anchor="end" fill="#111" stroke="#111" stroke-width="0.08">0.020</text>
<text x="379.10" y="636.68" font-size="3.7" text-anchor="end" fill="#111" stroke="#111" stroke-width="0.08">0.015</text>
<text x="379.10" y="612.67" font-size="3.7" text-anchor="end" fill="#111" stroke="#111" stroke-width="0.08">0.010</text>
<text x="379.10" y="588.66" font-size="3.7" text-anchor="end" fill="#111" stroke="#111" stroke-width="0.08">0.005</text>
<text x="379.10" y="564.65" font-size="3.7" text-anchor="end" fill="#111" stroke="#111" stroke-width="0.08">0.000</text>
<text x="379.10" y="540.64" font-size="3.7" text-anchor="end" fill="#111" stroke="#111" stroke-width="0.08">0.005</text>
<text x="379.10" y="516.63" font-size="3.7" text-anchor="end" fill="#111" stroke="#111" stroke-width="0.08">0.010</text>
<text x="379.10" y="492.62" font-size="3.7" text-anchor="end" fill="#111" stroke="#111" stroke-width="0.08">0.015</text>
<text x="379.10" y="468.61" font-size="3.7" text-anchor="end" fill="#111" stroke="#111" stroke-width="0.08">0.020</text>
<text x="379.10" y="444.60" font-size="3.7" text-anchor="end" fill="#111" stroke="#111" stroke-width="0.08">0.025</text>
<text x="380.50" y="687.90" font-size="3.7" text-anchor="middle" fill="#111" stroke="#111" stroke-width="0.08">0</text>
<text x="428.00" y="687.90" font-size="3.7" text-anchor="middle" fill="#111" stroke="#111" stroke-width="0.08">50</text>
<text x="475.50" y="687.90" font-size="3.7" text-anchor="middle" fill="#111" stroke="#111" stroke-width="0.08">100</text>
<text x="523.00" y="687.90" font-size="3.7" text-anchor="middle" fill="#111" stroke="#111" stroke-width="0.08">150</text>
<text x="570.50" y="687.90" font-size="3.7" text-anchor="middle" fill="#111" stroke="#111" stroke-width="0.08">200</text>
<text x="618.00" y="687.90" font-size="3.7" text-anchor="middle" fill="#111" stroke="#111" stroke-width="0.08">250</text>
<text x="665.50" y="687.90" font-size="3.7" text-anchor="middle" fill="#111" stroke="#111" stroke-width="0.08">300</text>
<text x="512.05" y="694.10" font-size="5.4" textLength="40.2" lengthAdjust="spacingAndGlyphs" fill="#222">Mass/Charge (m/z)</text>
<text transform="translate(366.80,563.50) rotate(-90)" x="0" y="0" font-size="5.3" textLength="39" lengthAdjust="spacingAndGlyphs" text-anchor="middle" fill="#222">Relative Intensity</text>
<rect x="382.30" y="444.70" width="35.7" height="15.1" rx="0.8" fill="#fff" fill-opacity="0.8" stroke="#e3e3e3" stroke-width="0.6"/>
<rect x="384.30" y="447.30" width="8.6" height="2.9" fill="#1f77b4"/>
<rect x="384.30" y="454.00" width="8.6" height="2.9" fill="#d62728"/>
<text x="396.70" y="450.00" font-size="4.8" fill="#222">Real</text>
<text x="396.70" y="456.80" font-size="4.8" fill="#222">Predicted</text>
</g>
<line x1="126.50" y1="23.10" x2="111.30" y2="31.40" stroke="#7a7a7a" stroke-width="0.85" stroke-linecap="round"/>
<line x1="111.30" y1="31.40" x2="111.30" y2="48.70" stroke="#7a7a7a" stroke-width="0.85" stroke-linecap="round"/>
<line x1="111.30" y1="48.70" x2="126.50" y2="56.50" stroke="#7a7a7a" stroke-width="0.85" stroke-linecap="round"/>
<line x1="126.50" y1="56.50" x2="141.10" y2="48.70" stroke="#7a7a7a" stroke-width="0.85" stroke-linecap="round"/>
<line x1="141.10" y1="48.70" x2="141.10" y2="31.40" stroke="#7a7a7a" stroke-width="0.85" stroke-linecap="round"/>
<line x1="141.10" y1="31.40" x2="126.50" y2="23.10" stroke="#7a7a7a" stroke-width="0.85" stroke-linecap="round"/>
<line x1="124.91" y1="26.70" x2="115.19" y2="32.01" stroke="#7a7a7a" stroke-width="0.85" stroke-linecap="round"/>
<line x1="138.70" y1="34.51" x2="138.70" y2="45.59" stroke="#7a7a7a" stroke-width="0.85" stroke-linecap="round"/>
<line x1="115.13" y1="47.97" x2="124.86" y2="52.96" stroke="#7a7a7a" stroke-width="0.85" stroke-linecap="round"/>
<line x1="141.10" y1="48.70" x2="155.60" y2="56.90" stroke="#7a7a7a" stroke-width="0.85" stroke-linecap="round"/>
<line x1="155.60" y1="56.90" x2="170.40" y2="49.30" stroke="#7a7a7a" stroke-width="0.85" stroke-linecap="round"/>
<line x1="170.40" y1="49.30" x2="185.20" y2="57.40" stroke="#7a7a7a" stroke-width="0.85" stroke-linecap="round"/>
<line x1="185.20" y1="57.40" x2="200.40" y2="49.30" stroke="#7a7a7a" stroke-width="0.85" stroke-linecap="round"/>
<line x1="200.40" y1="49.30" x2="200.50" y2="32.50" stroke="#7a7a7a" stroke-width="0.85" stroke-linecap="round"/>
<line x1="200.50" y1="32.50" x2="215.20" y2="24.30" stroke="#7a7a7a" stroke-width="0.85" stroke-linecap="round"/>
<line x1="215.20" y1="24.30" x2="230.00" y2="32.80" stroke="#7a7a7a" stroke-width="0.85" stroke-linecap="round"/>
<line x1="230.00" y1="32.80" x2="230.00" y2="49.50" stroke="#7a7a7a" stroke-width="0.85" stroke-linecap="round"/>
<line x1="230.00" y1="49.50" x2="215.00" y2="58.00" stroke="#7a7a7a" stroke-width="0.85" stroke-linecap="round"/>
<line x1="215.00" y1="58.00" x2="200.40" y2="49.30" stroke="#7a7a7a" stroke-width="0.85" stroke-linecap="round"/>
<line x1="204.32" y1="33.12" x2="213.72" y2="27.87" stroke="#7a7a7a" stroke-width="0.85" stroke-linecap="round"/>
<line x1="227.60" y1="35.81" x2="227.60" y2="46.49" stroke="#7a7a7a" stroke-width="0.85" stroke-linecap="round"/>
<line x1="204.26" y1="48.80" x2="213.60" y2="54.37" stroke="#7a7a7a" stroke-width="0.85" stroke-linecap="round"/>
<line x1="154.30" y1="57.20" x2="154.30" y2="64.60" stroke="#7a7a7a" stroke-width="0.85" stroke-linecap="round"/>
<line x1="154.30" y1="64.60" x2="154.30" y2="72.00" stroke="#e8484d" stroke-width="0.85" stroke-linecap="round"/>
<line x1="156.90" y1="57.20" x2="156.90" y2="64.60" stroke="#7a7a7a" stroke-width="0.85" stroke-linecap="round"/>
<line x1="156.90" y1="64.60" x2="156.90" y2="72.00" stroke="#e8484d" stroke-width="0.85" stroke-linecap="round"/>
<text x="155.60" y="76.80" font-size="5.0" text-anchor="middle" fill="#e8484d" stroke="#e8484d" stroke-width="0.25">O</text>
<line x1="183.90" y1="57.70" x2="183.90" y2="64.85" stroke="#7a7a7a" stroke-width="0.85" stroke-linecap="round"/>
<line x1="183.90" y1="64.85" x2="183.90" y2="72.00" stroke="#e8484d" stroke-width="0.85" stroke-linecap="round"/>
<line x1="186.50" y1="57.70" x2="186.50" y2="64.85" stroke="#7a7a7a" stroke-width="0.85" stroke-linecap="round"/>
<line x1="186.50" y1="64.85" x2="186.50" y2="72.00" stroke="#e8484d" stroke-width="0.85" stroke-linecap="round"/>
<text x="185.20" y="76.80" font-size="5.0" text-anchor="middle" fill="#e8484d" stroke="#e8484d" stroke-width="0.25">O</text>
<line x1="200.50" y1="32.50" x2="194.75" y2="29.40" stroke="#7a7a7a" stroke-width="0.85" stroke-linecap="round"/>
<line x1="194.75" y1="29.40" x2="189.00" y2="26.30" stroke="#e8484d" stroke-width="0.85" stroke-linecap="round"/>
<text x="184.00" y="26.30" font-size="5.0" text-anchor="middle" fill="#e8484d" stroke="#e8484d" stroke-width="0.25">HO</text>
<line x1="452.20" y1="54.40" x2="472.60" y2="45.60" stroke="#7a7a7a" stroke-width="0.85" stroke-linecap="round"/>
<line x1="472.60" y1="45.60" x2="491.60" y2="59.40" stroke="#7a7a7a" stroke-width="0.85" stroke-linecap="round"/>
<line x1="491.60" y1="59.40" x2="512.30" y2="50.20" stroke="#7a7a7a" stroke-width="0.85" stroke-linecap="round"/>
<line x1="512.30" y1="50.20" x2="531.00" y2="63.70" stroke="#7a7a7a" stroke-width="0.85" stroke-linecap="round"/>
<line x1="531.00" y1="63.70" x2="552.60" y2="55.10" stroke="#7a7a7a" stroke-width="0.85" stroke-linecap="round"/>
<line x1="552.60" y1="55.10" x2="554.20" y2="31.80" stroke="#7a7a7a" stroke-width="0.85" stroke-linecap="round"/>
<line x1="554.20" y1="31.80" x2="575.60" y2="23.10" stroke="#7a7a7a" stroke-width="0.85" stroke-linecap="round"/>
<line x1="575.60" y1="23.10" x2="594.00" y2="36.30" stroke="#7a7a7a" stroke-width="0.85" stroke-linecap="round"/>
<line x1="594.00" y1="36.30" x2="592.00" y2="59.70" stroke="#7a7a7a" stroke-width="0.85" stroke-linecap="round"/>
<line x1="552.60" y1="55.10" x2="560.25" y2="60.85" stroke="#7a7a7a" stroke-width="0.85" stroke-linecap="round"/>
<line x1="560.25" y1="60.85" x2="567.90" y2="66.60" stroke="#e8484d" stroke-width="0.85" stroke-linecap="round"/>
<line x1="592.00" y1="59.70" x2="582.54" y2="63.49" stroke="#7a7a7a" stroke-width="0.85" stroke-linecap="round"/>
<line x1="582.54" y1="63.49" x2="573.08" y2="67.28" stroke="#e8484d" stroke-width="0.85" stroke-linecap="round"/>
<line x1="592.91" y1="58.45" x2="600.55" y2="64.01" stroke="#7a7a7a" stroke-width="0.85" stroke-linecap="round"/>
<line x1="600.55" y1="64.01" x2="608.19" y2="69.58" stroke="#e8484d" stroke-width="0.85" stroke-linecap="round"/>
<line x1="591.09" y1="60.95" x2="598.72" y2="66.52" stroke="#7a7a7a" stroke-width="0.85" stroke-linecap="round"/>
<line x1="598.72" y1="66.52" x2="606.36" y2="72.09" stroke="#e8484d" stroke-width="0.85" stroke-linecap="round"/>
<text x="570.30" y="70.60" font-size="6.0" text-anchor="middle" fill="#e8484d" stroke="#e8484d" stroke-width="0.25">O</text>
<text x="610.00" y="74.90" font-size="6.3" text-anchor="middle" fill="#e8484d" stroke="#e8484d" stroke-width="0.25">O</text>
<line x1="116.00" y1="400.80" x2="107.30" y2="412.50" stroke="#7a7a7a" stroke-width="0.85" stroke-linecap="round"/>
<line x1="107.30" y1="412.50" x2="113.50" y2="425.50" stroke="#7a7a7a" stroke-width="0.85" stroke-linecap="round"/>
<line x1="113.50" y1="425.50" x2="128.30" y2="426.70" stroke="#7a7a7a" stroke-width="0.85" stroke-linecap="round"/>
<line x1="128.30" y1="426.70" x2="136.50" y2="414.80" stroke="#7a7a7a" stroke-width="0.85" stroke-linecap="round"/>
<line x1="136.50" y1="414.80" x2="130.00" y2="401.60" stroke="#7a7a7a" stroke-width="0.85" stroke-linecap="round"/>
<line x1="130.00" y1="401.60" x2="116.00" y2="400.80" stroke="#7a7a7a" stroke-width="0.85" stroke-linecap="round"/>
<line x1="130.00" y1="401.60" x2="138.20" y2="390.30" stroke="#7a7a7a" stroke-width="0.85" stroke-linecap="round"/>
<line x1="138.20" y1="390.30" x2="152.80" y2="391.10" stroke="#7a7a7a" stroke-width="0.85" stroke-linecap="round"/>
<line x1="152.80" y1="391.10" x2="158.70" y2="404.30" stroke="#7a7a7a" stroke-width="0.85" stroke-linecap="round"/>
<line x1="158.70" y1="404.30" x2="150.50" y2="415.60" stroke="#7a7a7a" stroke-width="0.85" stroke-linecap="round"/>
<line x1="150.50" y1="415.60" x2="136.50" y2="414.80" stroke="#7a7a7a" stroke-width="0.85" stroke-linecap="round"/>
<line x1="158.70" y1="404.30" x2="172.50" y2="405.50" stroke="#7a7a7a" stroke-width="0.85" stroke-linecap="round"/>
<line x1="172.50" y1="405.50" x2="179.10" y2="418.10" stroke="#7a7a7a" stroke-width="0.85" stroke-linecap="round"/>
<line x1="179.10" y1="418.10" x2="170.50" y2="429.90" stroke="#7a7a7a" stroke-width="0.85" stroke-linecap="round"/>
<line x1="170.50" y1="429.90" x2="156.90" y2="428.50" stroke="#7a7a7a" stroke-width="0.85" stroke-linecap="round"/>
<line x1="156.90" y1="428.50" x2="150.50" y2="415.60" stroke="#7a7a7a" stroke-width="0.85" stroke-linecap="round"/>
<line x1="172.50" y1="405.50" x2="181.00" y2="393.40" stroke="#7a7a7a" stroke-width="0.85" stroke-linecap="round"/>
<line x1="181.00" y1="393.40" x2="195.20" y2="394.40" stroke="#7a7a7a" stroke-width="0.85" stroke-linecap="round"/>
<line x1="195.20" y1="394.40" x2="201.40" y2="407.20" stroke="#7a7a7a" stroke-width="0.85" stroke-linecap="round"/>
<line x1="201.40" y1="407.20" x2="193.50" y2="419.70" stroke="#7a7a7a" stroke-width="0.85" stroke-linecap="round"/>
<line x1="193.50" y1="419.70" x2="179.10" y2="418.10" stroke="#7a7a7a" stroke-width="0.85" stroke-linecap="round"/>
<line x1="201.40" y1="407.20" x2="215.20" y2="408.50" stroke="#7a7a7a" stroke-width="0.85" stroke-linecap="round"/>
<line x1="215.20" y1="408.50" x2="221.80" y2="421.60" stroke="#7a7a7a" stroke-width="0.85" stroke-linecap="round"/>
<line x1="221.80" y1="421.60" x2="213.60" y2="433.10" stroke="#7a7a7a" stroke-width="0.85" stroke-linecap="round"/>
<line x1="213.60" y1="433.10" x2="199.40" y2="431.80" stroke="#7a7a7a" stroke-width="0.85" stroke-linecap="round"/>
<line x1="199.40" y1="431.80" x2="193.50" y2="419.70" stroke="#7a7a7a" stroke-width="0.85" stroke-linecap="round"/>
<line x1="153.43" y1="416.56" x2="157.91" y2="425.59" stroke="#7a7a7a" stroke-width="0.85" stroke-linecap="round"/>
<line x1="130.00" y1="401.60" x2="124.20" y2="389.10" stroke="#7a7a7a" stroke-width="0.85" stroke-linecap="round"/>
<line x1="113.50" y1="425.50" x2="100.30" y2="429.30" stroke="#7a7a7a" stroke-width="0.85" stroke-linecap="round"/>
<line x1="113.50" y1="425.50" x2="115.40" y2="439.60" stroke="#7a7a7a" stroke-width="0.85" stroke-linecap="round"/>
<line x1="158.70" y1="404.30" x2="164.80" y2="417.10" stroke="#7a7a7a" stroke-width="0.85" stroke-linecap="round"/>
<line x1="172.50" y1="405.50" x2="166.60" y2="392.10" stroke="#7a7a7a" stroke-width="0.85" stroke-linecap="round"/>
<line x1="193.50" y1="419.70" x2="185.20" y2="431.20" stroke="#7a7a7a" stroke-width="0.85" stroke-linecap="round"/>
<line x1="215.20" y1="408.50" x2="214.50" y2="394.40" stroke="#7a7a7a" stroke-width="0.85" stroke-linecap="round"/>
<line x1="215.20" y1="408.50" x2="229.60" y2="405.20" stroke="#7a7a7a" stroke-width="0.85" stroke-linecap="round"/>
<line x1="229.60" y1="405.20" x2="230.32" y2="401.36" stroke="#7a7a7a" stroke-width="0.85" stroke-linecap="round"/>
<line x1="230.32" y1="401.36" x2="231.40" y2="395.60" stroke="#e8484d" stroke-width="0.85" stroke-linecap="round"/>
<line x1="221.80" y1="421.60" x2="227.30" y2="422.05" stroke="#7a7a7a" stroke-width="0.85" stroke-linecap="round"/>
<line x1="227.30" y1="422.05" x2="232.80" y2="422.50" stroke="#e8484d" stroke-width="0.85" stroke-linecap="round"/>
<line x1="116.00" y1="400.80" x2="114.30" y2="397.60" stroke="#7a7a7a" stroke-width="0.85" stroke-linecap="round"/>
<line x1="114.30" y1="397.60" x2="112.60" y2="394.40" stroke="#e8484d" stroke-width="0.85" stroke-linecap="round"/>
<text x="107.80" y="390.00" font-size="5.2" text-anchor="middle" fill="#e8484d" stroke="#e8484d" stroke-width="0.25">HO</text>
<text x="235.30" y="393.40" font-size="5.3" text-anchor="middle" fill="#e8484d" stroke="#e8484d" stroke-width="0.25">OH</text>
<text x="238.00" y="425.00" font-size="5.3" text-anchor="middle" fill="#e8484d" stroke="#e8484d" stroke-width="0.25">OH</text>
<line x1="408.30" y1="412.30" x2="421.80" y2="405.20" stroke="#5a5a5a" stroke-width="0.85" stroke-linecap="round"/>
<line x1="421.80" y1="405.20" x2="435.50" y2="413.40" stroke="#5a5a5a" stroke-width="0.85" stroke-linecap="round"/>
<line x1="435.50" y1="413.40" x2="449.40" y2="406.20" stroke="#5a5a5a" stroke-width="0.85" stroke-linecap="round"/>
<line x1="449.40" y1="406.20" x2="462.80" y2="414.70" stroke="#5a5a5a" stroke-width="0.85" stroke-linecap="round"/>
<line x1="462.80" y1="414.70" x2="476.60" y2="407.50" stroke="#5a5a5a" stroke-width="0.85" stroke-linecap="round"/>
<line x1="476.60" y1="407.50" x2="490.00" y2="415.40" stroke="#5a5a5a" stroke-width="0.85" stroke-linecap="round"/>
<line x1="490.00" y1="415.40" x2="504.40" y2="408.10" stroke="#5a5a5a" stroke-width="0.85" stroke-linecap="round"/>
<line x1="504.40" y1="408.10" x2="517.60" y2="416.00" stroke="#5a5a5a" stroke-width="0.85" stroke-linecap="round"/>
<line x1="517.60" y1="416.00" x2="531.00" y2="408.50" stroke="#5a5a5a" stroke-width="0.85" stroke-linecap="round"/>
<line x1="531.00" y1="408.50" x2="544.80" y2="417.10" stroke="#5a5a5a" stroke-width="0.85" stroke-linecap="round"/>
<line x1="544.80" y1="417.10" x2="558.60" y2="409.70" stroke="#5a5a5a" stroke-width="0.85" stroke-linecap="round"/>
<line x1="558.60" y1="409.70" x2="572.00" y2="418.00" stroke="#5a5a5a" stroke-width="0.85" stroke-linecap="round"/>
<line x1="572.00" y1="418.00" x2="586.00" y2="410.90" stroke="#5a5a5a" stroke-width="0.85" stroke-linecap="round"/>
<line x1="586.00" y1="410.90" x2="599.80" y2="419.20" stroke="#5a5a5a" stroke-width="0.85" stroke-linecap="round"/>
<line x1="599.80" y1="419.20" x2="613.60" y2="411.50" stroke="#5a5a5a" stroke-width="0.85" stroke-linecap="round"/>
<line x1="477.09" y1="410.34" x2="487.27" y2="416.35" stroke="#5a5a5a" stroke-width="0.85" stroke-linecap="round"/>
<line x1="518.13" y1="413.18" x2="528.32" y2="407.48" stroke="#5a5a5a" stroke-width="0.85" stroke-linecap="round"/>
<line x1="559.05" y1="412.57" x2="569.23" y2="418.87" stroke="#5a5a5a" stroke-width="0.85" stroke-linecap="round"/>
<line x1="613.60" y1="411.50" x2="614.70" y2="395.80" stroke="#5a5a5a" stroke-width="0.85" stroke-linecap="round"/>
<line x1="614.70" y1="395.80" x2="628.50" y2="388.40" stroke="#5a5a5a" stroke-width="0.85" stroke-linecap="round"/>
<line x1="628.50" y1="388.40" x2="641.10" y2="396.70" stroke="#5a5a5a" stroke-width="0.85" stroke-linecap="round"/>
<line x1="641.10" y1="396.70" x2="640.70" y2="412.80" stroke="#5a5a5a" stroke-width="0.85" stroke-linecap="round"/>
<line x1="613.60" y1="411.50" x2="619.17" y2="415.18" stroke="#5a5a5a" stroke-width="0.85" stroke-linecap="round"/>
<line x1="619.17" y1="415.18" x2="624.73" y2="418.87" stroke="#e8484d" stroke-width="0.85" stroke-linecap="round"/>
<line x1="640.70" y1="412.80" x2="634.94" y2="415.93" stroke="#5a5a5a" stroke-width="0.85" stroke-linecap="round"/>
<line x1="634.94" y1="415.93" x2="629.18" y2="419.06" stroke="#e8484d" stroke-width="0.85" stroke-linecap="round"/>
<line x1="641.35" y1="411.73" x2="646.90" y2="415.10" stroke="#5a5a5a" stroke-width="0.85" stroke-linecap="round"/>
<line x1="646.90" y1="415.10" x2="652.46" y2="418.48" stroke="#e8484d" stroke-width="0.85" stroke-linecap="round"/>
<line x1="640.05" y1="413.87" x2="645.60" y2="417.24" stroke="#5a5a5a" stroke-width="0.85" stroke-linecap="round"/>
<line x1="645.60" y1="417.24" x2="651.16" y2="420.61" stroke="#e8484d" stroke-width="0.85" stroke-linecap="round"/>
<text x="626.90" y="422.30" font-size="5.6" text-anchor="middle" fill="#e8484d" stroke="#e8484d" stroke-width="0.25">O</text>
<text x="654.40" y="423.20" font-size="6.2" text-anchor="middle" fill="#e8484d" stroke="#e8484d" stroke-width="0.25">O</text>
<line x1="599.80" y1="419.20" x2="599.80" y2="425.10" stroke="#5a5a5a" stroke-width="0.85" stroke-linecap="round"/>
<line x1="599.80" y1="425.10" x2="599.80" y2="431.00" stroke="#e8484d" stroke-width="0.85" stroke-linecap="round"/>
<text x="601.40" y="437.60" font-size="5.4" text-anchor="middle" fill="#e8484d" stroke="#e8484d" stroke-width="0.25">OH</text>
</svg></body></html>
